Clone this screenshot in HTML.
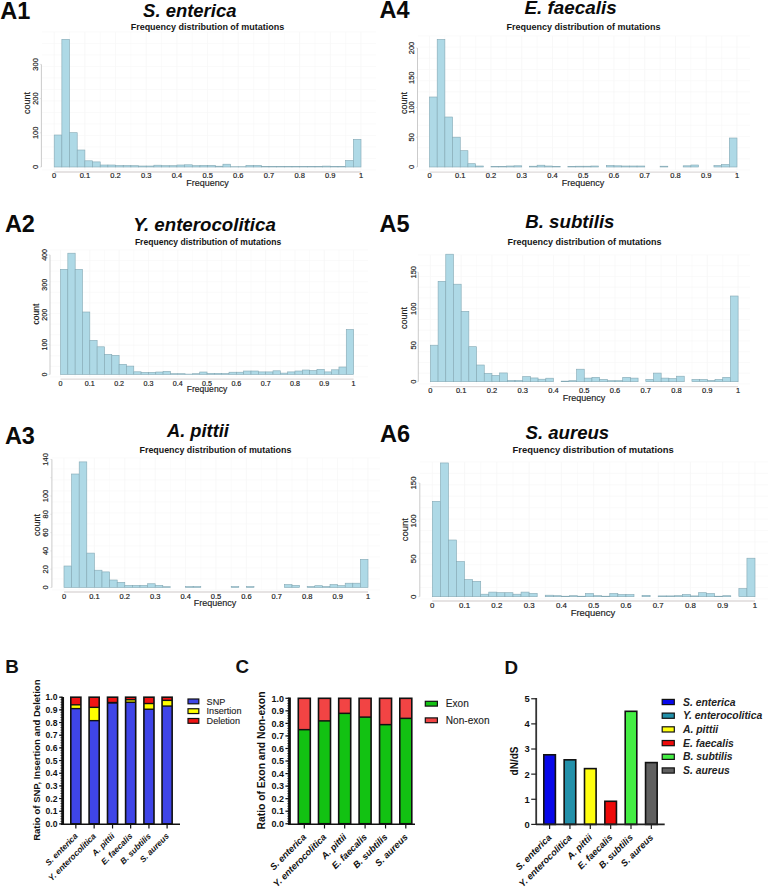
<!DOCTYPE html>
<html><head><meta charset="utf-8"><style>
html,body{margin:0;padding:0;background:#fff;}
svg{display:block;font-family:"Liberation Sans",sans-serif;}
</style></head><body>
<svg width="768" height="888" viewBox="0 0 768 888">
<rect x="0" y="0" width="768" height="888" fill="#fff"/>
<line x1="54.20" y1="32.00" x2="54.20" y2="170.00" stroke="#f4f4f4" stroke-width="0.6"/>
<line x1="69.54" y1="32.00" x2="69.54" y2="170.00" stroke="#f8f8f8" stroke-width="0.6"/>
<line x1="84.88" y1="32.00" x2="84.88" y2="170.00" stroke="#f4f4f4" stroke-width="0.6"/>
<line x1="100.22" y1="32.00" x2="100.22" y2="170.00" stroke="#f8f8f8" stroke-width="0.6"/>
<line x1="115.56" y1="32.00" x2="115.56" y2="170.00" stroke="#f4f4f4" stroke-width="0.6"/>
<line x1="130.90" y1="32.00" x2="130.90" y2="170.00" stroke="#f8f8f8" stroke-width="0.6"/>
<line x1="146.24" y1="32.00" x2="146.24" y2="170.00" stroke="#f4f4f4" stroke-width="0.6"/>
<line x1="161.58" y1="32.00" x2="161.58" y2="170.00" stroke="#f8f8f8" stroke-width="0.6"/>
<line x1="176.92" y1="32.00" x2="176.92" y2="170.00" stroke="#f4f4f4" stroke-width="0.6"/>
<line x1="192.26" y1="32.00" x2="192.26" y2="170.00" stroke="#f8f8f8" stroke-width="0.6"/>
<line x1="207.60" y1="32.00" x2="207.60" y2="170.00" stroke="#f4f4f4" stroke-width="0.6"/>
<line x1="222.94" y1="32.00" x2="222.94" y2="170.00" stroke="#f8f8f8" stroke-width="0.6"/>
<line x1="238.28" y1="32.00" x2="238.28" y2="170.00" stroke="#f4f4f4" stroke-width="0.6"/>
<line x1="253.62" y1="32.00" x2="253.62" y2="170.00" stroke="#f8f8f8" stroke-width="0.6"/>
<line x1="268.96" y1="32.00" x2="268.96" y2="170.00" stroke="#f4f4f4" stroke-width="0.6"/>
<line x1="284.30" y1="32.00" x2="284.30" y2="170.00" stroke="#f8f8f8" stroke-width="0.6"/>
<line x1="299.64" y1="32.00" x2="299.64" y2="170.00" stroke="#f4f4f4" stroke-width="0.6"/>
<line x1="314.98" y1="32.00" x2="314.98" y2="170.00" stroke="#f8f8f8" stroke-width="0.6"/>
<line x1="330.32" y1="32.00" x2="330.32" y2="170.00" stroke="#f4f4f4" stroke-width="0.6"/>
<line x1="345.66" y1="32.00" x2="345.66" y2="170.00" stroke="#f8f8f8" stroke-width="0.6"/>
<line x1="361.00" y1="32.00" x2="361.00" y2="170.00" stroke="#f4f4f4" stroke-width="0.6"/>
<line x1="42.00" y1="32.00" x2="376.00" y2="32.00" stroke="#f7f7f7" stroke-width="0.6"/>
<line x1="42.00" y1="43.50" x2="376.00" y2="43.50" stroke="#f7f7f7" stroke-width="0.6"/>
<line x1="42.00" y1="55.00" x2="376.00" y2="55.00" stroke="#f7f7f7" stroke-width="0.6"/>
<line x1="42.00" y1="66.50" x2="376.00" y2="66.50" stroke="#f7f7f7" stroke-width="0.6"/>
<line x1="42.00" y1="78.00" x2="376.00" y2="78.00" stroke="#f7f7f7" stroke-width="0.6"/>
<line x1="42.00" y1="89.50" x2="376.00" y2="89.50" stroke="#f7f7f7" stroke-width="0.6"/>
<line x1="42.00" y1="101.00" x2="376.00" y2="101.00" stroke="#f7f7f7" stroke-width="0.6"/>
<line x1="42.00" y1="112.50" x2="376.00" y2="112.50" stroke="#f7f7f7" stroke-width="0.6"/>
<line x1="42.00" y1="124.00" x2="376.00" y2="124.00" stroke="#f7f7f7" stroke-width="0.6"/>
<line x1="42.00" y1="135.50" x2="376.00" y2="135.50" stroke="#f7f7f7" stroke-width="0.6"/>
<line x1="42.00" y1="147.00" x2="376.00" y2="147.00" stroke="#f7f7f7" stroke-width="0.6"/>
<line x1="42.00" y1="158.50" x2="376.00" y2="158.50" stroke="#f7f7f7" stroke-width="0.6"/>
<line x1="42.00" y1="170.00" x2="376.00" y2="170.00" stroke="#f7f7f7" stroke-width="0.6"/>
<rect x="54.20" y="135.00" width="7.67" height="32.00" fill="#aed9e6" stroke="#84a8b4" stroke-width="0.6"/>
<rect x="61.87" y="39.30" width="7.67" height="127.70" fill="#aed9e6" stroke="#84a8b4" stroke-width="0.6"/>
<rect x="69.54" y="132.70" width="7.67" height="34.30" fill="#aed9e6" stroke="#84a8b4" stroke-width="0.6"/>
<rect x="77.21" y="150.00" width="7.67" height="17.00" fill="#aed9e6" stroke="#84a8b4" stroke-width="0.6"/>
<rect x="84.88" y="160.80" width="7.67" height="6.20" fill="#aed9e6" stroke="#84a8b4" stroke-width="0.6"/>
<rect x="92.55" y="161.90" width="7.67" height="5.10" fill="#aed9e6" stroke="#84a8b4" stroke-width="0.6"/>
<rect x="100.22" y="165.00" width="7.67" height="2.00" fill="#aed9e6" stroke="#84a8b4" stroke-width="0.6"/>
<rect x="107.89" y="165.00" width="7.67" height="2.00" fill="#aed9e6" stroke="#84a8b4" stroke-width="0.6"/>
<rect x="115.56" y="165.50" width="7.67" height="1.50" fill="#aed9e6" stroke="#84a8b4" stroke-width="0.6"/>
<rect x="123.23" y="165.50" width="7.67" height="1.50" fill="#aed9e6" stroke="#84a8b4" stroke-width="0.6"/>
<rect x="130.90" y="165.70" width="7.67" height="1.30" fill="#aed9e6" stroke="#84a8b4" stroke-width="0.6"/>
<rect x="138.57" y="166.00" width="7.67" height="1.00" fill="#aed9e6" stroke="#84a8b4" stroke-width="0.6"/>
<rect x="146.24" y="166.00" width="7.67" height="1.00" fill="#aed9e6" stroke="#84a8b4" stroke-width="0.6"/>
<rect x="153.91" y="165.20" width="7.67" height="1.80" fill="#aed9e6" stroke="#84a8b4" stroke-width="0.6"/>
<rect x="161.58" y="165.70" width="7.67" height="1.30" fill="#aed9e6" stroke="#84a8b4" stroke-width="0.6"/>
<rect x="169.25" y="165.70" width="7.67" height="1.30" fill="#aed9e6" stroke="#84a8b4" stroke-width="0.6"/>
<rect x="176.92" y="165.00" width="7.67" height="2.00" fill="#aed9e6" stroke="#84a8b4" stroke-width="0.6"/>
<rect x="184.59" y="164.80" width="7.67" height="2.20" fill="#aed9e6" stroke="#84a8b4" stroke-width="0.6"/>
<rect x="192.26" y="165.70" width="7.67" height="1.30" fill="#aed9e6" stroke="#84a8b4" stroke-width="0.6"/>
<rect x="199.93" y="165.40" width="7.67" height="1.60" fill="#aed9e6" stroke="#84a8b4" stroke-width="0.6"/>
<rect x="207.60" y="165.40" width="7.67" height="1.60" fill="#aed9e6" stroke="#84a8b4" stroke-width="0.6"/>
<rect x="215.27" y="166.20" width="7.67" height="0.80" fill="#aed9e6" stroke="#84a8b4" stroke-width="0.6"/>
<rect x="222.94" y="164.20" width="7.67" height="2.80" fill="#aed9e6" stroke="#84a8b4" stroke-width="0.6"/>
<rect x="230.61" y="166.70" width="7.67" height="0.30" fill="#aed9e6" stroke="#84a8b4" stroke-width="0.6"/>
<rect x="238.28" y="166.70" width="7.67" height="0.30" fill="#aed9e6" stroke="#84a8b4" stroke-width="0.6"/>
<rect x="245.95" y="165.40" width="7.67" height="1.60" fill="#aed9e6" stroke="#84a8b4" stroke-width="0.6"/>
<rect x="253.62" y="165.40" width="7.67" height="1.60" fill="#aed9e6" stroke="#84a8b4" stroke-width="0.6"/>
<rect x="261.29" y="166.60" width="7.67" height="0.40" fill="#aed9e6" stroke="#84a8b4" stroke-width="0.6"/>
<rect x="268.96" y="166.60" width="7.67" height="0.40" fill="#aed9e6" stroke="#84a8b4" stroke-width="0.6"/>
<rect x="276.63" y="166.60" width="7.67" height="0.40" fill="#aed9e6" stroke="#84a8b4" stroke-width="0.6"/>
<rect x="284.30" y="166.60" width="7.67" height="0.40" fill="#aed9e6" stroke="#84a8b4" stroke-width="0.6"/>
<rect x="291.97" y="166.60" width="7.67" height="0.40" fill="#aed9e6" stroke="#84a8b4" stroke-width="0.6"/>
<rect x="299.64" y="166.50" width="7.67" height="0.50" fill="#aed9e6" stroke="#84a8b4" stroke-width="0.6"/>
<rect x="307.31" y="166.30" width="7.67" height="0.70" fill="#aed9e6" stroke="#84a8b4" stroke-width="0.6"/>
<rect x="314.98" y="166.30" width="7.67" height="0.70" fill="#aed9e6" stroke="#84a8b4" stroke-width="0.6"/>
<rect x="322.65" y="166.10" width="7.67" height="0.90" fill="#aed9e6" stroke="#84a8b4" stroke-width="0.6"/>
<rect x="330.32" y="166.50" width="7.67" height="0.50" fill="#aed9e6" stroke="#84a8b4" stroke-width="0.6"/>
<rect x="337.99" y="166.50" width="7.67" height="0.50" fill="#aed9e6" stroke="#84a8b4" stroke-width="0.6"/>
<rect x="345.66" y="160.40" width="7.67" height="6.60" fill="#aed9e6" stroke="#84a8b4" stroke-width="0.6"/>
<rect x="353.33" y="139.30" width="7.67" height="27.70" fill="#aed9e6" stroke="#84a8b4" stroke-width="0.6"/>
<line x1="41.40" y1="167.00" x2="41.40" y2="64.40" stroke="#b5b5b5" stroke-width="0.7"/>
<line x1="39.90" y1="167.00" x2="41.40" y2="167.00" stroke="#d0d0d0" stroke-width="0.6"/>
<text x="37.6" y="167.0" font-size="7.5" text-anchor="middle" fill="#222" transform="rotate(-90 37.6 167.0)" stroke="#222" stroke-width="0.18">0</text>
<line x1="39.90" y1="132.80" x2="41.40" y2="132.80" stroke="#d0d0d0" stroke-width="0.6"/>
<text x="37.6" y="132.8" font-size="7.5" text-anchor="middle" fill="#222" transform="rotate(-90 37.6 132.8)" stroke="#222" stroke-width="0.18">100</text>
<line x1="39.90" y1="98.60" x2="41.40" y2="98.60" stroke="#d0d0d0" stroke-width="0.6"/>
<text x="37.6" y="98.6" font-size="7.5" text-anchor="middle" fill="#222" transform="rotate(-90 37.6 98.6)" stroke="#222" stroke-width="0.18">200</text>
<line x1="39.90" y1="64.40" x2="41.40" y2="64.40" stroke="#d0d0d0" stroke-width="0.6"/>
<text x="37.6" y="64.39999999999999" font-size="7.5" text-anchor="middle" fill="#222" transform="rotate(-90 37.6 64.39999999999999)" stroke="#222" stroke-width="0.18">300</text>
<line x1="54.20" y1="172.00" x2="361.00" y2="172.00" stroke="#dedada" stroke-width="1.3"/>
<text x="54.2" y="178.3" font-size="7.5" text-anchor="middle" fill="#222" stroke="#222" stroke-width="0.18">0</text>
<text x="84.88" y="178.3" font-size="7.5" text-anchor="middle" fill="#222" stroke="#222" stroke-width="0.18">0.1</text>
<text x="115.56" y="178.3" font-size="7.5" text-anchor="middle" fill="#222" stroke="#222" stroke-width="0.18">0.2</text>
<text x="146.24" y="178.3" font-size="7.5" text-anchor="middle" fill="#222" stroke="#222" stroke-width="0.18">0.3</text>
<text x="176.92000000000002" y="178.3" font-size="7.5" text-anchor="middle" fill="#222" stroke="#222" stroke-width="0.18">0.4</text>
<text x="207.60000000000002" y="178.3" font-size="7.5" text-anchor="middle" fill="#222" stroke="#222" stroke-width="0.18">0.5</text>
<text x="238.28000000000003" y="178.3" font-size="7.5" text-anchor="middle" fill="#222" stroke="#222" stroke-width="0.18">0.6</text>
<text x="268.96" y="178.3" font-size="7.5" text-anchor="middle" fill="#222" stroke="#222" stroke-width="0.18">0.7</text>
<text x="299.64" y="178.3" font-size="7.5" text-anchor="middle" fill="#222" stroke="#222" stroke-width="0.18">0.8</text>
<text x="330.32" y="178.3" font-size="7.5" text-anchor="middle" fill="#222" stroke="#222" stroke-width="0.18">0.9</text>
<text x="361.0" y="178.3" font-size="7.5" text-anchor="middle" fill="#222" stroke="#222" stroke-width="0.18">1</text>
<text x="29.9" y="103" font-size="9" text-anchor="middle" fill="#1a1a1a" transform="rotate(-90 29.9 103)" stroke="#1a1a1a" stroke-width="0.15">count</text>
<text x="207.5" y="186" font-size="9" text-anchor="middle" fill="#1a1a1a" stroke="#1a1a1a" stroke-width="0.15">Frequency</text>
<text x="0.2" y="18.5" font-size="23.5" font-weight="bold" text-anchor="start" fill="#0a0a0a">A1</text>
<text x="143.1" y="16.5" font-size="18.47" font-weight="bold" font-style="italic" text-anchor="start" fill="#0a0a0a">S. enterica</text>
<text x="130.7" y="30.0" font-size="8.98" font-weight="bold" text-anchor="start" fill="#151515">Frequency distribution of mutations</text>
<line x1="429.50" y1="36.00" x2="429.50" y2="170.00" stroke="#f4f4f4" stroke-width="0.6"/>
<line x1="444.88" y1="36.00" x2="444.88" y2="170.00" stroke="#f8f8f8" stroke-width="0.6"/>
<line x1="460.25" y1="36.00" x2="460.25" y2="170.00" stroke="#f4f4f4" stroke-width="0.6"/>
<line x1="475.62" y1="36.00" x2="475.62" y2="170.00" stroke="#f8f8f8" stroke-width="0.6"/>
<line x1="491.00" y1="36.00" x2="491.00" y2="170.00" stroke="#f4f4f4" stroke-width="0.6"/>
<line x1="506.38" y1="36.00" x2="506.38" y2="170.00" stroke="#f8f8f8" stroke-width="0.6"/>
<line x1="521.75" y1="36.00" x2="521.75" y2="170.00" stroke="#f4f4f4" stroke-width="0.6"/>
<line x1="537.12" y1="36.00" x2="537.12" y2="170.00" stroke="#f8f8f8" stroke-width="0.6"/>
<line x1="552.50" y1="36.00" x2="552.50" y2="170.00" stroke="#f4f4f4" stroke-width="0.6"/>
<line x1="567.88" y1="36.00" x2="567.88" y2="170.00" stroke="#f8f8f8" stroke-width="0.6"/>
<line x1="583.25" y1="36.00" x2="583.25" y2="170.00" stroke="#f4f4f4" stroke-width="0.6"/>
<line x1="598.62" y1="36.00" x2="598.62" y2="170.00" stroke="#f8f8f8" stroke-width="0.6"/>
<line x1="614.00" y1="36.00" x2="614.00" y2="170.00" stroke="#f4f4f4" stroke-width="0.6"/>
<line x1="629.38" y1="36.00" x2="629.38" y2="170.00" stroke="#f8f8f8" stroke-width="0.6"/>
<line x1="644.75" y1="36.00" x2="644.75" y2="170.00" stroke="#f4f4f4" stroke-width="0.6"/>
<line x1="660.12" y1="36.00" x2="660.12" y2="170.00" stroke="#f8f8f8" stroke-width="0.6"/>
<line x1="675.50" y1="36.00" x2="675.50" y2="170.00" stroke="#f4f4f4" stroke-width="0.6"/>
<line x1="690.88" y1="36.00" x2="690.88" y2="170.00" stroke="#f8f8f8" stroke-width="0.6"/>
<line x1="706.25" y1="36.00" x2="706.25" y2="170.00" stroke="#f4f4f4" stroke-width="0.6"/>
<line x1="721.62" y1="36.00" x2="721.62" y2="170.00" stroke="#f8f8f8" stroke-width="0.6"/>
<line x1="737.00" y1="36.00" x2="737.00" y2="170.00" stroke="#f4f4f4" stroke-width="0.6"/>
<line x1="418.00" y1="36.00" x2="750.00" y2="36.00" stroke="#f7f7f7" stroke-width="0.6"/>
<line x1="418.00" y1="47.17" x2="750.00" y2="47.17" stroke="#f7f7f7" stroke-width="0.6"/>
<line x1="418.00" y1="58.33" x2="750.00" y2="58.33" stroke="#f7f7f7" stroke-width="0.6"/>
<line x1="418.00" y1="69.50" x2="750.00" y2="69.50" stroke="#f7f7f7" stroke-width="0.6"/>
<line x1="418.00" y1="80.67" x2="750.00" y2="80.67" stroke="#f7f7f7" stroke-width="0.6"/>
<line x1="418.00" y1="91.83" x2="750.00" y2="91.83" stroke="#f7f7f7" stroke-width="0.6"/>
<line x1="418.00" y1="103.00" x2="750.00" y2="103.00" stroke="#f7f7f7" stroke-width="0.6"/>
<line x1="418.00" y1="114.17" x2="750.00" y2="114.17" stroke="#f7f7f7" stroke-width="0.6"/>
<line x1="418.00" y1="125.33" x2="750.00" y2="125.33" stroke="#f7f7f7" stroke-width="0.6"/>
<line x1="418.00" y1="136.50" x2="750.00" y2="136.50" stroke="#f7f7f7" stroke-width="0.6"/>
<line x1="418.00" y1="147.67" x2="750.00" y2="147.67" stroke="#f7f7f7" stroke-width="0.6"/>
<line x1="418.00" y1="158.83" x2="750.00" y2="158.83" stroke="#f7f7f7" stroke-width="0.6"/>
<line x1="418.00" y1="170.00" x2="750.00" y2="170.00" stroke="#f7f7f7" stroke-width="0.6"/>
<rect x="429.50" y="97.00" width="7.69" height="70.00" fill="#aed9e6" stroke="#84a8b4" stroke-width="0.6"/>
<rect x="437.19" y="39.40" width="7.69" height="127.60" fill="#aed9e6" stroke="#84a8b4" stroke-width="0.6"/>
<rect x="444.88" y="117.00" width="7.69" height="50.00" fill="#aed9e6" stroke="#84a8b4" stroke-width="0.6"/>
<rect x="452.56" y="137.20" width="7.69" height="29.80" fill="#aed9e6" stroke="#84a8b4" stroke-width="0.6"/>
<rect x="460.25" y="150.70" width="7.69" height="16.30" fill="#aed9e6" stroke="#84a8b4" stroke-width="0.6"/>
<rect x="467.94" y="163.70" width="7.69" height="3.30" fill="#aed9e6" stroke="#84a8b4" stroke-width="0.6"/>
<rect x="475.62" y="166.00" width="7.69" height="1.00" fill="#aed9e6" stroke="#84a8b4" stroke-width="0.6"/>
<rect x="491.00" y="166.40" width="7.69" height="0.60" fill="#aed9e6" stroke="#84a8b4" stroke-width="0.6"/>
<rect x="498.69" y="166.40" width="7.69" height="0.60" fill="#aed9e6" stroke="#84a8b4" stroke-width="0.6"/>
<rect x="506.38" y="166.00" width="7.69" height="1.00" fill="#aed9e6" stroke="#84a8b4" stroke-width="0.6"/>
<rect x="514.06" y="165.80" width="7.69" height="1.20" fill="#aed9e6" stroke="#84a8b4" stroke-width="0.6"/>
<rect x="529.44" y="166.20" width="7.69" height="0.80" fill="#aed9e6" stroke="#84a8b4" stroke-width="0.6"/>
<rect x="537.12" y="165.20" width="7.69" height="1.80" fill="#aed9e6" stroke="#84a8b4" stroke-width="0.6"/>
<rect x="544.81" y="166.00" width="7.69" height="1.00" fill="#aed9e6" stroke="#84a8b4" stroke-width="0.6"/>
<rect x="552.50" y="166.40" width="7.69" height="0.60" fill="#aed9e6" stroke="#84a8b4" stroke-width="0.6"/>
<rect x="567.88" y="166.40" width="7.69" height="0.60" fill="#aed9e6" stroke="#84a8b4" stroke-width="0.6"/>
<rect x="575.56" y="166.20" width="7.69" height="0.80" fill="#aed9e6" stroke="#84a8b4" stroke-width="0.6"/>
<rect x="583.25" y="166.20" width="7.69" height="0.80" fill="#aed9e6" stroke="#84a8b4" stroke-width="0.6"/>
<rect x="590.94" y="166.00" width="7.69" height="1.00" fill="#aed9e6" stroke="#84a8b4" stroke-width="0.6"/>
<rect x="606.31" y="165.50" width="7.69" height="1.50" fill="#aed9e6" stroke="#84a8b4" stroke-width="0.6"/>
<rect x="614.00" y="165.80" width="7.69" height="1.20" fill="#aed9e6" stroke="#84a8b4" stroke-width="0.6"/>
<rect x="621.69" y="166.00" width="7.69" height="1.00" fill="#aed9e6" stroke="#84a8b4" stroke-width="0.6"/>
<rect x="629.38" y="166.00" width="7.69" height="1.00" fill="#aed9e6" stroke="#84a8b4" stroke-width="0.6"/>
<rect x="637.06" y="166.00" width="7.69" height="1.00" fill="#aed9e6" stroke="#84a8b4" stroke-width="0.6"/>
<rect x="660.12" y="166.20" width="7.69" height="0.80" fill="#aed9e6" stroke="#84a8b4" stroke-width="0.6"/>
<rect x="683.19" y="165.80" width="7.69" height="1.20" fill="#aed9e6" stroke="#84a8b4" stroke-width="0.6"/>
<rect x="690.88" y="165.00" width="7.69" height="2.00" fill="#aed9e6" stroke="#84a8b4" stroke-width="0.6"/>
<rect x="713.94" y="165.50" width="7.69" height="1.50" fill="#aed9e6" stroke="#84a8b4" stroke-width="0.6"/>
<rect x="721.62" y="164.50" width="7.69" height="2.50" fill="#aed9e6" stroke="#84a8b4" stroke-width="0.6"/>
<rect x="729.31" y="138.00" width="7.69" height="29.00" fill="#aed9e6" stroke="#84a8b4" stroke-width="0.6"/>
<line x1="417.50" y1="167.00" x2="417.50" y2="48.00" stroke="#b5b5b5" stroke-width="0.7"/>
<line x1="416.00" y1="167.00" x2="417.50" y2="167.00" stroke="#d0d0d0" stroke-width="0.6"/>
<text x="413.6" y="167.0" font-size="7.5" text-anchor="middle" fill="#222" transform="rotate(-90 413.6 167.0)" stroke="#222" stroke-width="0.18">0</text>
<line x1="416.00" y1="137.25" x2="417.50" y2="137.25" stroke="#d0d0d0" stroke-width="0.6"/>
<text x="413.6" y="137.25" font-size="7.5" text-anchor="middle" fill="#222" transform="rotate(-90 413.6 137.25)" stroke="#222" stroke-width="0.18">50</text>
<line x1="416.00" y1="107.50" x2="417.50" y2="107.50" stroke="#d0d0d0" stroke-width="0.6"/>
<text x="413.6" y="107.5" font-size="7.5" text-anchor="middle" fill="#222" transform="rotate(-90 413.6 107.5)" stroke="#222" stroke-width="0.18">100</text>
<line x1="416.00" y1="77.75" x2="417.50" y2="77.75" stroke="#d0d0d0" stroke-width="0.6"/>
<text x="413.6" y="77.75" font-size="7.5" text-anchor="middle" fill="#222" transform="rotate(-90 413.6 77.75)" stroke="#222" stroke-width="0.18">150</text>
<line x1="416.00" y1="48.00" x2="417.50" y2="48.00" stroke="#d0d0d0" stroke-width="0.6"/>
<text x="413.6" y="48.0" font-size="7.5" text-anchor="middle" fill="#222" transform="rotate(-90 413.6 48.0)" stroke="#222" stroke-width="0.18">200</text>
<line x1="429.50" y1="172.20" x2="737.00" y2="172.20" stroke="#dedada" stroke-width="1.3"/>
<text x="429.5" y="178.3" font-size="7.5" text-anchor="middle" fill="#222" stroke="#222" stroke-width="0.18">0</text>
<text x="460.25" y="178.3" font-size="7.5" text-anchor="middle" fill="#222" stroke="#222" stroke-width="0.18">0.1</text>
<text x="491.0" y="178.3" font-size="7.5" text-anchor="middle" fill="#222" stroke="#222" stroke-width="0.18">0.2</text>
<text x="521.75" y="178.3" font-size="7.5" text-anchor="middle" fill="#222" stroke="#222" stroke-width="0.18">0.3</text>
<text x="552.5" y="178.3" font-size="7.5" text-anchor="middle" fill="#222" stroke="#222" stroke-width="0.18">0.4</text>
<text x="583.25" y="178.3" font-size="7.5" text-anchor="middle" fill="#222" stroke="#222" stroke-width="0.18">0.5</text>
<text x="614.0" y="178.3" font-size="7.5" text-anchor="middle" fill="#222" stroke="#222" stroke-width="0.18">0.6</text>
<text x="644.75" y="178.3" font-size="7.5" text-anchor="middle" fill="#222" stroke="#222" stroke-width="0.18">0.7</text>
<text x="675.5" y="178.3" font-size="7.5" text-anchor="middle" fill="#222" stroke="#222" stroke-width="0.18">0.8</text>
<text x="706.25" y="178.3" font-size="7.5" text-anchor="middle" fill="#222" stroke="#222" stroke-width="0.18">0.9</text>
<text x="737.0" y="178.3" font-size="7.5" text-anchor="middle" fill="#222" stroke="#222" stroke-width="0.18">1</text>
<text x="406.7" y="103" font-size="9" text-anchor="middle" fill="#1a1a1a" transform="rotate(-90 406.7 103)" stroke="#1a1a1a" stroke-width="0.15">count</text>
<text x="583" y="186" font-size="9" text-anchor="middle" fill="#1a1a1a" stroke="#1a1a1a" stroke-width="0.15">Frequency</text>
<text x="379.6" y="17.5" font-size="23.5" font-weight="bold" text-anchor="start" fill="#0a0a0a">A4</text>
<text x="524.5" y="13.8" font-size="18.86" font-weight="bold" font-style="italic" text-anchor="start" fill="#0a0a0a">E. faecalis</text>
<text x="506.4" y="30.2" font-size="9.0" font-weight="bold" text-anchor="start" fill="#151515">Frequency distribution of mutations</text>
<line x1="60.50" y1="250.00" x2="60.50" y2="377.00" stroke="#f4f4f4" stroke-width="0.6"/>
<line x1="75.16" y1="250.00" x2="75.16" y2="377.00" stroke="#f8f8f8" stroke-width="0.6"/>
<line x1="89.81" y1="250.00" x2="89.81" y2="377.00" stroke="#f4f4f4" stroke-width="0.6"/>
<line x1="104.47" y1="250.00" x2="104.47" y2="377.00" stroke="#f8f8f8" stroke-width="0.6"/>
<line x1="119.12" y1="250.00" x2="119.12" y2="377.00" stroke="#f4f4f4" stroke-width="0.6"/>
<line x1="133.78" y1="250.00" x2="133.78" y2="377.00" stroke="#f8f8f8" stroke-width="0.6"/>
<line x1="148.43" y1="250.00" x2="148.43" y2="377.00" stroke="#f4f4f4" stroke-width="0.6"/>
<line x1="163.09" y1="250.00" x2="163.09" y2="377.00" stroke="#f8f8f8" stroke-width="0.6"/>
<line x1="177.74" y1="250.00" x2="177.74" y2="377.00" stroke="#f4f4f4" stroke-width="0.6"/>
<line x1="192.40" y1="250.00" x2="192.40" y2="377.00" stroke="#f8f8f8" stroke-width="0.6"/>
<line x1="207.05" y1="250.00" x2="207.05" y2="377.00" stroke="#f4f4f4" stroke-width="0.6"/>
<line x1="221.71" y1="250.00" x2="221.71" y2="377.00" stroke="#f8f8f8" stroke-width="0.6"/>
<line x1="236.36" y1="250.00" x2="236.36" y2="377.00" stroke="#f4f4f4" stroke-width="0.6"/>
<line x1="251.02" y1="250.00" x2="251.02" y2="377.00" stroke="#f8f8f8" stroke-width="0.6"/>
<line x1="265.67" y1="250.00" x2="265.67" y2="377.00" stroke="#f4f4f4" stroke-width="0.6"/>
<line x1="280.33" y1="250.00" x2="280.33" y2="377.00" stroke="#f8f8f8" stroke-width="0.6"/>
<line x1="294.98" y1="250.00" x2="294.98" y2="377.00" stroke="#f4f4f4" stroke-width="0.6"/>
<line x1="309.63" y1="250.00" x2="309.63" y2="377.00" stroke="#f8f8f8" stroke-width="0.6"/>
<line x1="324.29" y1="250.00" x2="324.29" y2="377.00" stroke="#f4f4f4" stroke-width="0.6"/>
<line x1="338.94" y1="250.00" x2="338.94" y2="377.00" stroke="#f8f8f8" stroke-width="0.6"/>
<line x1="353.60" y1="250.00" x2="353.60" y2="377.00" stroke="#f4f4f4" stroke-width="0.6"/>
<line x1="50.00" y1="250.00" x2="368.00" y2="250.00" stroke="#f7f7f7" stroke-width="0.6"/>
<line x1="50.00" y1="260.58" x2="368.00" y2="260.58" stroke="#f7f7f7" stroke-width="0.6"/>
<line x1="50.00" y1="271.17" x2="368.00" y2="271.17" stroke="#f7f7f7" stroke-width="0.6"/>
<line x1="50.00" y1="281.75" x2="368.00" y2="281.75" stroke="#f7f7f7" stroke-width="0.6"/>
<line x1="50.00" y1="292.33" x2="368.00" y2="292.33" stroke="#f7f7f7" stroke-width="0.6"/>
<line x1="50.00" y1="302.92" x2="368.00" y2="302.92" stroke="#f7f7f7" stroke-width="0.6"/>
<line x1="50.00" y1="313.50" x2="368.00" y2="313.50" stroke="#f7f7f7" stroke-width="0.6"/>
<line x1="50.00" y1="324.08" x2="368.00" y2="324.08" stroke="#f7f7f7" stroke-width="0.6"/>
<line x1="50.00" y1="334.67" x2="368.00" y2="334.67" stroke="#f7f7f7" stroke-width="0.6"/>
<line x1="50.00" y1="345.25" x2="368.00" y2="345.25" stroke="#f7f7f7" stroke-width="0.6"/>
<line x1="50.00" y1="355.83" x2="368.00" y2="355.83" stroke="#f7f7f7" stroke-width="0.6"/>
<line x1="50.00" y1="366.42" x2="368.00" y2="366.42" stroke="#f7f7f7" stroke-width="0.6"/>
<line x1="50.00" y1="377.00" x2="368.00" y2="377.00" stroke="#f7f7f7" stroke-width="0.6"/>
<rect x="60.50" y="269.30" width="7.33" height="105.20" fill="#aed9e6" stroke="#84a8b4" stroke-width="0.6"/>
<rect x="67.83" y="253.20" width="7.33" height="121.30" fill="#aed9e6" stroke="#84a8b4" stroke-width="0.6"/>
<rect x="75.16" y="269.30" width="7.33" height="105.20" fill="#aed9e6" stroke="#84a8b4" stroke-width="0.6"/>
<rect x="82.48" y="312.00" width="7.33" height="62.50" fill="#aed9e6" stroke="#84a8b4" stroke-width="0.6"/>
<rect x="89.81" y="340.30" width="7.33" height="34.20" fill="#aed9e6" stroke="#84a8b4" stroke-width="0.6"/>
<rect x="97.14" y="346.80" width="7.33" height="27.70" fill="#aed9e6" stroke="#84a8b4" stroke-width="0.6"/>
<rect x="104.47" y="354.30" width="7.33" height="20.20" fill="#aed9e6" stroke="#84a8b4" stroke-width="0.6"/>
<rect x="111.79" y="355.30" width="7.33" height="19.20" fill="#aed9e6" stroke="#84a8b4" stroke-width="0.6"/>
<rect x="119.12" y="364.30" width="7.33" height="10.20" fill="#aed9e6" stroke="#84a8b4" stroke-width="0.6"/>
<rect x="126.45" y="366.10" width="7.33" height="8.40" fill="#aed9e6" stroke="#84a8b4" stroke-width="0.6"/>
<rect x="133.78" y="371.80" width="7.33" height="2.70" fill="#aed9e6" stroke="#84a8b4" stroke-width="0.6"/>
<rect x="141.10" y="372.40" width="7.33" height="2.10" fill="#aed9e6" stroke="#84a8b4" stroke-width="0.6"/>
<rect x="148.43" y="372.40" width="7.33" height="2.10" fill="#aed9e6" stroke="#84a8b4" stroke-width="0.6"/>
<rect x="155.76" y="372.00" width="7.33" height="2.50" fill="#aed9e6" stroke="#84a8b4" stroke-width="0.6"/>
<rect x="163.09" y="371.40" width="7.33" height="3.10" fill="#aed9e6" stroke="#84a8b4" stroke-width="0.6"/>
<rect x="170.41" y="373.70" width="7.33" height="0.80" fill="#aed9e6" stroke="#84a8b4" stroke-width="0.6"/>
<rect x="177.74" y="373.70" width="7.33" height="0.80" fill="#aed9e6" stroke="#84a8b4" stroke-width="0.6"/>
<rect x="185.07" y="374.10" width="7.33" height="0.40" fill="#aed9e6" stroke="#84a8b4" stroke-width="0.6"/>
<rect x="192.40" y="373.70" width="7.33" height="0.80" fill="#aed9e6" stroke="#84a8b4" stroke-width="0.6"/>
<rect x="199.72" y="372.00" width="7.33" height="2.50" fill="#aed9e6" stroke="#84a8b4" stroke-width="0.6"/>
<rect x="207.05" y="373.30" width="7.33" height="1.20" fill="#aed9e6" stroke="#84a8b4" stroke-width="0.6"/>
<rect x="214.38" y="373.30" width="7.33" height="1.20" fill="#aed9e6" stroke="#84a8b4" stroke-width="0.6"/>
<rect x="221.71" y="373.50" width="7.33" height="1.00" fill="#aed9e6" stroke="#84a8b4" stroke-width="0.6"/>
<rect x="229.03" y="372.20" width="7.33" height="2.30" fill="#aed9e6" stroke="#84a8b4" stroke-width="0.6"/>
<rect x="236.36" y="372.20" width="7.33" height="2.30" fill="#aed9e6" stroke="#84a8b4" stroke-width="0.6"/>
<rect x="243.69" y="371.00" width="7.33" height="3.50" fill="#aed9e6" stroke="#84a8b4" stroke-width="0.6"/>
<rect x="251.02" y="371.00" width="7.33" height="3.50" fill="#aed9e6" stroke="#84a8b4" stroke-width="0.6"/>
<rect x="258.34" y="371.90" width="7.33" height="2.60" fill="#aed9e6" stroke="#84a8b4" stroke-width="0.6"/>
<rect x="265.67" y="371.90" width="7.33" height="2.60" fill="#aed9e6" stroke="#84a8b4" stroke-width="0.6"/>
<rect x="273.00" y="370.80" width="7.33" height="3.70" fill="#aed9e6" stroke="#84a8b4" stroke-width="0.6"/>
<rect x="280.33" y="373.10" width="7.33" height="1.40" fill="#aed9e6" stroke="#84a8b4" stroke-width="0.6"/>
<rect x="287.65" y="371.90" width="7.33" height="2.60" fill="#aed9e6" stroke="#84a8b4" stroke-width="0.6"/>
<rect x="294.98" y="371.00" width="7.33" height="3.50" fill="#aed9e6" stroke="#84a8b4" stroke-width="0.6"/>
<rect x="302.31" y="370.00" width="7.33" height="4.50" fill="#aed9e6" stroke="#84a8b4" stroke-width="0.6"/>
<rect x="309.63" y="370.50" width="7.33" height="4.00" fill="#aed9e6" stroke="#84a8b4" stroke-width="0.6"/>
<rect x="316.96" y="369.30" width="7.33" height="5.20" fill="#aed9e6" stroke="#84a8b4" stroke-width="0.6"/>
<rect x="324.29" y="371.90" width="7.33" height="2.60" fill="#aed9e6" stroke="#84a8b4" stroke-width="0.6"/>
<rect x="331.62" y="369.80" width="7.33" height="4.70" fill="#aed9e6" stroke="#84a8b4" stroke-width="0.6"/>
<rect x="338.95" y="367.00" width="7.33" height="7.50" fill="#aed9e6" stroke="#84a8b4" stroke-width="0.6"/>
<rect x="346.27" y="329.50" width="7.33" height="45.00" fill="#aed9e6" stroke="#84a8b4" stroke-width="0.6"/>
<line x1="50.00" y1="374.50" x2="50.00" y2="254.90" stroke="#b5b5b5" stroke-width="0.7"/>
<line x1="48.50" y1="374.50" x2="50.00" y2="374.50" stroke="#d0d0d0" stroke-width="0.6"/>
<text x="47" y="374.5" font-size="7.125" text-anchor="middle" fill="#222" transform="rotate(-90 47 374.5)" stroke="#222" stroke-width="0.18">0</text>
<line x1="48.50" y1="344.60" x2="50.00" y2="344.60" stroke="#d0d0d0" stroke-width="0.6"/>
<text x="47" y="344.6" font-size="7.125" text-anchor="middle" fill="#222" transform="rotate(-90 47 344.6)" stroke="#222" stroke-width="0.18">100</text>
<line x1="48.50" y1="314.70" x2="50.00" y2="314.70" stroke="#d0d0d0" stroke-width="0.6"/>
<text x="47" y="314.7" font-size="7.125" text-anchor="middle" fill="#222" transform="rotate(-90 47 314.7)" stroke="#222" stroke-width="0.18">200</text>
<line x1="48.50" y1="284.80" x2="50.00" y2="284.80" stroke="#d0d0d0" stroke-width="0.6"/>
<text x="47" y="284.8" font-size="7.125" text-anchor="middle" fill="#222" transform="rotate(-90 47 284.8)" stroke="#222" stroke-width="0.18">300</text>
<line x1="48.50" y1="254.90" x2="50.00" y2="254.90" stroke="#d0d0d0" stroke-width="0.6"/>
<text x="47" y="254.9" font-size="7.125" text-anchor="middle" fill="#222" transform="rotate(-90 47 254.9)" stroke="#222" stroke-width="0.18">400</text>
<line x1="60.50" y1="379.20" x2="353.60" y2="379.20" stroke="#dedada" stroke-width="1.3"/>
<text x="60.5" y="385.5" font-size="7.125" text-anchor="middle" fill="#222" stroke="#222" stroke-width="0.18">0</text>
<text x="89.81" y="385.5" font-size="7.125" text-anchor="middle" fill="#222" stroke="#222" stroke-width="0.18">0.1</text>
<text x="119.12" y="385.5" font-size="7.125" text-anchor="middle" fill="#222" stroke="#222" stroke-width="0.18">0.2</text>
<text x="148.43" y="385.5" font-size="7.125" text-anchor="middle" fill="#222" stroke="#222" stroke-width="0.18">0.3</text>
<text x="177.74" y="385.5" font-size="7.125" text-anchor="middle" fill="#222" stroke="#222" stroke-width="0.18">0.4</text>
<text x="207.05" y="385.5" font-size="7.125" text-anchor="middle" fill="#222" stroke="#222" stroke-width="0.18">0.5</text>
<text x="236.36" y="385.5" font-size="7.125" text-anchor="middle" fill="#222" stroke="#222" stroke-width="0.18">0.6</text>
<text x="265.67" y="385.5" font-size="7.125" text-anchor="middle" fill="#222" stroke="#222" stroke-width="0.18">0.7</text>
<text x="294.98" y="385.5" font-size="7.125" text-anchor="middle" fill="#222" stroke="#222" stroke-width="0.18">0.8</text>
<text x="324.29" y="385.5" font-size="7.125" text-anchor="middle" fill="#222" stroke="#222" stroke-width="0.18">0.9</text>
<text x="353.6" y="385.5" font-size="7.125" text-anchor="middle" fill="#222" stroke="#222" stroke-width="0.18">1</text>
<text x="38.9" y="314" font-size="8.549999999999999" text-anchor="middle" fill="#1a1a1a" transform="rotate(-90 38.9 314)" stroke="#1a1a1a" stroke-width="0.15">count</text>
<text x="207" y="392" font-size="8.549999999999999" text-anchor="middle" fill="#1a1a1a" stroke="#1a1a1a" stroke-width="0.15">Frequency</text>
<text x="4.9" y="232.4" font-size="23.5" font-weight="bold" text-anchor="start" fill="#0a0a0a">A2</text>
<text x="133.2" y="231.0" font-size="18.71" font-weight="bold" font-style="italic" text-anchor="start" fill="#0a0a0a">Y. enterocolitica</text>
<text x="134.9" y="244.5" font-size="8.56" font-weight="bold" text-anchor="start" fill="#151515">Frequency distribution of mutations</text>
<line x1="430.40" y1="255.00" x2="430.40" y2="384.00" stroke="#f4f4f4" stroke-width="0.6"/>
<line x1="445.78" y1="255.00" x2="445.78" y2="384.00" stroke="#f8f8f8" stroke-width="0.6"/>
<line x1="461.17" y1="255.00" x2="461.17" y2="384.00" stroke="#f4f4f4" stroke-width="0.6"/>
<line x1="476.56" y1="255.00" x2="476.56" y2="384.00" stroke="#f8f8f8" stroke-width="0.6"/>
<line x1="491.94" y1="255.00" x2="491.94" y2="384.00" stroke="#f4f4f4" stroke-width="0.6"/>
<line x1="507.32" y1="255.00" x2="507.32" y2="384.00" stroke="#f8f8f8" stroke-width="0.6"/>
<line x1="522.71" y1="255.00" x2="522.71" y2="384.00" stroke="#f4f4f4" stroke-width="0.6"/>
<line x1="538.10" y1="255.00" x2="538.10" y2="384.00" stroke="#f8f8f8" stroke-width="0.6"/>
<line x1="553.48" y1="255.00" x2="553.48" y2="384.00" stroke="#f4f4f4" stroke-width="0.6"/>
<line x1="568.87" y1="255.00" x2="568.87" y2="384.00" stroke="#f8f8f8" stroke-width="0.6"/>
<line x1="584.25" y1="255.00" x2="584.25" y2="384.00" stroke="#f4f4f4" stroke-width="0.6"/>
<line x1="599.63" y1="255.00" x2="599.63" y2="384.00" stroke="#f8f8f8" stroke-width="0.6"/>
<line x1="615.02" y1="255.00" x2="615.02" y2="384.00" stroke="#f4f4f4" stroke-width="0.6"/>
<line x1="630.40" y1="255.00" x2="630.40" y2="384.00" stroke="#f8f8f8" stroke-width="0.6"/>
<line x1="645.79" y1="255.00" x2="645.79" y2="384.00" stroke="#f4f4f4" stroke-width="0.6"/>
<line x1="661.17" y1="255.00" x2="661.17" y2="384.00" stroke="#f8f8f8" stroke-width="0.6"/>
<line x1="676.56" y1="255.00" x2="676.56" y2="384.00" stroke="#f4f4f4" stroke-width="0.6"/>
<line x1="691.94" y1="255.00" x2="691.94" y2="384.00" stroke="#f8f8f8" stroke-width="0.6"/>
<line x1="707.33" y1="255.00" x2="707.33" y2="384.00" stroke="#f4f4f4" stroke-width="0.6"/>
<line x1="722.72" y1="255.00" x2="722.72" y2="384.00" stroke="#f8f8f8" stroke-width="0.6"/>
<line x1="738.10" y1="255.00" x2="738.10" y2="384.00" stroke="#f4f4f4" stroke-width="0.6"/>
<line x1="418.00" y1="255.00" x2="750.00" y2="255.00" stroke="#f7f7f7" stroke-width="0.6"/>
<line x1="418.00" y1="265.75" x2="750.00" y2="265.75" stroke="#f7f7f7" stroke-width="0.6"/>
<line x1="418.00" y1="276.50" x2="750.00" y2="276.50" stroke="#f7f7f7" stroke-width="0.6"/>
<line x1="418.00" y1="287.25" x2="750.00" y2="287.25" stroke="#f7f7f7" stroke-width="0.6"/>
<line x1="418.00" y1="298.00" x2="750.00" y2="298.00" stroke="#f7f7f7" stroke-width="0.6"/>
<line x1="418.00" y1="308.75" x2="750.00" y2="308.75" stroke="#f7f7f7" stroke-width="0.6"/>
<line x1="418.00" y1="319.50" x2="750.00" y2="319.50" stroke="#f7f7f7" stroke-width="0.6"/>
<line x1="418.00" y1="330.25" x2="750.00" y2="330.25" stroke="#f7f7f7" stroke-width="0.6"/>
<line x1="418.00" y1="341.00" x2="750.00" y2="341.00" stroke="#f7f7f7" stroke-width="0.6"/>
<line x1="418.00" y1="351.75" x2="750.00" y2="351.75" stroke="#f7f7f7" stroke-width="0.6"/>
<line x1="418.00" y1="362.50" x2="750.00" y2="362.50" stroke="#f7f7f7" stroke-width="0.6"/>
<line x1="418.00" y1="373.25" x2="750.00" y2="373.25" stroke="#f7f7f7" stroke-width="0.6"/>
<line x1="418.00" y1="384.00" x2="750.00" y2="384.00" stroke="#f7f7f7" stroke-width="0.6"/>
<rect x="430.40" y="345.20" width="7.69" height="36.50" fill="#aed9e6" stroke="#84a8b4" stroke-width="0.6"/>
<rect x="438.09" y="281.30" width="7.69" height="100.40" fill="#aed9e6" stroke="#84a8b4" stroke-width="0.6"/>
<rect x="445.78" y="254.20" width="7.69" height="127.50" fill="#aed9e6" stroke="#84a8b4" stroke-width="0.6"/>
<rect x="453.48" y="284.20" width="7.69" height="97.50" fill="#aed9e6" stroke="#84a8b4" stroke-width="0.6"/>
<rect x="461.17" y="311.30" width="7.69" height="70.40" fill="#aed9e6" stroke="#84a8b4" stroke-width="0.6"/>
<rect x="468.86" y="346.70" width="7.69" height="35.00" fill="#aed9e6" stroke="#84a8b4" stroke-width="0.6"/>
<rect x="476.55" y="365.00" width="7.69" height="16.70" fill="#aed9e6" stroke="#84a8b4" stroke-width="0.6"/>
<rect x="484.25" y="373.40" width="7.69" height="8.30" fill="#aed9e6" stroke="#84a8b4" stroke-width="0.6"/>
<rect x="491.94" y="375.45" width="7.69" height="6.25" fill="#aed9e6" stroke="#84a8b4" stroke-width="0.6"/>
<rect x="499.63" y="372.95" width="7.69" height="8.75" fill="#aed9e6" stroke="#84a8b4" stroke-width="0.6"/>
<rect x="507.32" y="380.45" width="7.69" height="1.25" fill="#aed9e6" stroke="#84a8b4" stroke-width="0.6"/>
<rect x="515.02" y="380.45" width="7.69" height="1.25" fill="#aed9e6" stroke="#84a8b4" stroke-width="0.6"/>
<rect x="522.71" y="376.50" width="7.69" height="5.20" fill="#aed9e6" stroke="#84a8b4" stroke-width="0.6"/>
<rect x="530.40" y="377.95" width="7.69" height="3.75" fill="#aed9e6" stroke="#84a8b4" stroke-width="0.6"/>
<rect x="538.10" y="379.20" width="7.69" height="2.50" fill="#aed9e6" stroke="#84a8b4" stroke-width="0.6"/>
<rect x="545.79" y="378.20" width="7.69" height="3.50" fill="#aed9e6" stroke="#84a8b4" stroke-width="0.6"/>
<rect x="561.17" y="381.10" width="7.69" height="0.60" fill="#aed9e6" stroke="#84a8b4" stroke-width="0.6"/>
<rect x="568.87" y="380.70" width="7.69" height="1.00" fill="#aed9e6" stroke="#84a8b4" stroke-width="0.6"/>
<rect x="576.56" y="369.20" width="7.69" height="12.50" fill="#aed9e6" stroke="#84a8b4" stroke-width="0.6"/>
<rect x="584.25" y="378.10" width="7.69" height="3.60" fill="#aed9e6" stroke="#84a8b4" stroke-width="0.6"/>
<rect x="591.94" y="377.30" width="7.69" height="4.40" fill="#aed9e6" stroke="#84a8b4" stroke-width="0.6"/>
<rect x="599.63" y="379.40" width="7.69" height="2.30" fill="#aed9e6" stroke="#84a8b4" stroke-width="0.6"/>
<rect x="607.33" y="380.70" width="7.69" height="1.00" fill="#aed9e6" stroke="#84a8b4" stroke-width="0.6"/>
<rect x="615.02" y="380.70" width="7.69" height="1.00" fill="#aed9e6" stroke="#84a8b4" stroke-width="0.6"/>
<rect x="622.71" y="377.30" width="7.69" height="4.40" fill="#aed9e6" stroke="#84a8b4" stroke-width="0.6"/>
<rect x="630.40" y="378.10" width="7.69" height="3.60" fill="#aed9e6" stroke="#84a8b4" stroke-width="0.6"/>
<rect x="645.79" y="379.40" width="7.69" height="2.30" fill="#aed9e6" stroke="#84a8b4" stroke-width="0.6"/>
<rect x="653.48" y="373.10" width="7.69" height="8.60" fill="#aed9e6" stroke="#84a8b4" stroke-width="0.6"/>
<rect x="661.17" y="378.10" width="7.69" height="3.60" fill="#aed9e6" stroke="#84a8b4" stroke-width="0.6"/>
<rect x="668.87" y="378.60" width="7.69" height="3.10" fill="#aed9e6" stroke="#84a8b4" stroke-width="0.6"/>
<rect x="676.56" y="376.20" width="7.69" height="5.50" fill="#aed9e6" stroke="#84a8b4" stroke-width="0.6"/>
<rect x="691.94" y="379.40" width="7.69" height="2.30" fill="#aed9e6" stroke="#84a8b4" stroke-width="0.6"/>
<rect x="699.64" y="379.40" width="7.69" height="2.30" fill="#aed9e6" stroke="#84a8b4" stroke-width="0.6"/>
<rect x="707.33" y="380.40" width="7.69" height="1.30" fill="#aed9e6" stroke="#84a8b4" stroke-width="0.6"/>
<rect x="715.02" y="379.40" width="7.69" height="2.30" fill="#aed9e6" stroke="#84a8b4" stroke-width="0.6"/>
<rect x="722.72" y="377.30" width="7.69" height="4.40" fill="#aed9e6" stroke="#84a8b4" stroke-width="0.6"/>
<rect x="730.41" y="296.00" width="7.69" height="85.70" fill="#aed9e6" stroke="#84a8b4" stroke-width="0.6"/>
<line x1="418.30" y1="381.70" x2="418.30" y2="272.20" stroke="#b5b5b5" stroke-width="0.7"/>
<line x1="416.80" y1="381.70" x2="418.30" y2="381.70" stroke="#d0d0d0" stroke-width="0.6"/>
<text x="415.6" y="381.7" font-size="7.5" text-anchor="middle" fill="#222" transform="rotate(-90 415.6 381.7)" stroke="#222" stroke-width="0.18">0</text>
<line x1="416.80" y1="345.20" x2="418.30" y2="345.20" stroke="#d0d0d0" stroke-width="0.6"/>
<text x="415.6" y="345.2" font-size="7.5" text-anchor="middle" fill="#222" transform="rotate(-90 415.6 345.2)" stroke="#222" stroke-width="0.18">50</text>
<line x1="416.80" y1="308.70" x2="418.30" y2="308.70" stroke="#d0d0d0" stroke-width="0.6"/>
<text x="415.6" y="308.7" font-size="7.5" text-anchor="middle" fill="#222" transform="rotate(-90 415.6 308.7)" stroke="#222" stroke-width="0.18">100</text>
<line x1="416.80" y1="272.20" x2="418.30" y2="272.20" stroke="#d0d0d0" stroke-width="0.6"/>
<text x="415.6" y="272.2" font-size="7.5" text-anchor="middle" fill="#222" transform="rotate(-90 415.6 272.2)" stroke="#222" stroke-width="0.18">150</text>
<line x1="430.40" y1="386.60" x2="738.10" y2="386.60" stroke="#dedada" stroke-width="1.3"/>
<text x="430.4" y="392.5" font-size="7.5" text-anchor="middle" fill="#222" stroke="#222" stroke-width="0.18">0</text>
<text x="461.16999999999996" y="392.5" font-size="7.5" text-anchor="middle" fill="#222" stroke="#222" stroke-width="0.18">0.1</text>
<text x="491.94" y="392.5" font-size="7.5" text-anchor="middle" fill="#222" stroke="#222" stroke-width="0.18">0.2</text>
<text x="522.71" y="392.5" font-size="7.5" text-anchor="middle" fill="#222" stroke="#222" stroke-width="0.18">0.3</text>
<text x="553.48" y="392.5" font-size="7.5" text-anchor="middle" fill="#222" stroke="#222" stroke-width="0.18">0.4</text>
<text x="584.25" y="392.5" font-size="7.5" text-anchor="middle" fill="#222" stroke="#222" stroke-width="0.18">0.5</text>
<text x="615.02" y="392.5" font-size="7.5" text-anchor="middle" fill="#222" stroke="#222" stroke-width="0.18">0.6</text>
<text x="645.79" y="392.5" font-size="7.5" text-anchor="middle" fill="#222" stroke="#222" stroke-width="0.18">0.7</text>
<text x="676.56" y="392.5" font-size="7.5" text-anchor="middle" fill="#222" stroke="#222" stroke-width="0.18">0.8</text>
<text x="707.3299999999999" y="392.5" font-size="7.5" text-anchor="middle" fill="#222" stroke="#222" stroke-width="0.18">0.9</text>
<text x="738.1" y="392.5" font-size="7.5" text-anchor="middle" fill="#222" stroke="#222" stroke-width="0.18">1</text>
<text x="407.3" y="318" font-size="9" text-anchor="middle" fill="#1a1a1a" transform="rotate(-90 407.3 318)" stroke="#1a1a1a" stroke-width="0.15">count</text>
<text x="584" y="400.5" font-size="9" text-anchor="middle" fill="#1a1a1a" stroke="#1a1a1a" stroke-width="0.15">Frequency</text>
<text x="379.6" y="231.6" font-size="23.5" font-weight="bold" text-anchor="start" fill="#0a0a0a">A5</text>
<text x="525.2" y="227.6" font-size="18.72" font-weight="bold" font-style="italic" text-anchor="start" fill="#0a0a0a">B. subtilis</text>
<text x="507.4" y="244.6" font-size="9.0" font-weight="bold" text-anchor="start" fill="#151515">Frequency distribution of mutations</text>
<line x1="64.00" y1="458.00" x2="64.00" y2="590.00" stroke="#f4f4f4" stroke-width="0.6"/>
<line x1="79.20" y1="458.00" x2="79.20" y2="590.00" stroke="#f8f8f8" stroke-width="0.6"/>
<line x1="94.40" y1="458.00" x2="94.40" y2="590.00" stroke="#f4f4f4" stroke-width="0.6"/>
<line x1="109.60" y1="458.00" x2="109.60" y2="590.00" stroke="#f8f8f8" stroke-width="0.6"/>
<line x1="124.80" y1="458.00" x2="124.80" y2="590.00" stroke="#f4f4f4" stroke-width="0.6"/>
<line x1="140.00" y1="458.00" x2="140.00" y2="590.00" stroke="#f8f8f8" stroke-width="0.6"/>
<line x1="155.20" y1="458.00" x2="155.20" y2="590.00" stroke="#f4f4f4" stroke-width="0.6"/>
<line x1="170.40" y1="458.00" x2="170.40" y2="590.00" stroke="#f8f8f8" stroke-width="0.6"/>
<line x1="185.60" y1="458.00" x2="185.60" y2="590.00" stroke="#f4f4f4" stroke-width="0.6"/>
<line x1="200.80" y1="458.00" x2="200.80" y2="590.00" stroke="#f8f8f8" stroke-width="0.6"/>
<line x1="216.00" y1="458.00" x2="216.00" y2="590.00" stroke="#f4f4f4" stroke-width="0.6"/>
<line x1="231.20" y1="458.00" x2="231.20" y2="590.00" stroke="#f8f8f8" stroke-width="0.6"/>
<line x1="246.40" y1="458.00" x2="246.40" y2="590.00" stroke="#f4f4f4" stroke-width="0.6"/>
<line x1="261.60" y1="458.00" x2="261.60" y2="590.00" stroke="#f8f8f8" stroke-width="0.6"/>
<line x1="276.80" y1="458.00" x2="276.80" y2="590.00" stroke="#f4f4f4" stroke-width="0.6"/>
<line x1="292.00" y1="458.00" x2="292.00" y2="590.00" stroke="#f8f8f8" stroke-width="0.6"/>
<line x1="307.20" y1="458.00" x2="307.20" y2="590.00" stroke="#f4f4f4" stroke-width="0.6"/>
<line x1="322.40" y1="458.00" x2="322.40" y2="590.00" stroke="#f8f8f8" stroke-width="0.6"/>
<line x1="337.60" y1="458.00" x2="337.60" y2="590.00" stroke="#f4f4f4" stroke-width="0.6"/>
<line x1="352.80" y1="458.00" x2="352.80" y2="590.00" stroke="#f8f8f8" stroke-width="0.6"/>
<line x1="368.00" y1="458.00" x2="368.00" y2="590.00" stroke="#f4f4f4" stroke-width="0.6"/>
<line x1="52.00" y1="458.00" x2="380.00" y2="458.00" stroke="#f7f7f7" stroke-width="0.6"/>
<line x1="52.00" y1="469.00" x2="380.00" y2="469.00" stroke="#f7f7f7" stroke-width="0.6"/>
<line x1="52.00" y1="480.00" x2="380.00" y2="480.00" stroke="#f7f7f7" stroke-width="0.6"/>
<line x1="52.00" y1="491.00" x2="380.00" y2="491.00" stroke="#f7f7f7" stroke-width="0.6"/>
<line x1="52.00" y1="502.00" x2="380.00" y2="502.00" stroke="#f7f7f7" stroke-width="0.6"/>
<line x1="52.00" y1="513.00" x2="380.00" y2="513.00" stroke="#f7f7f7" stroke-width="0.6"/>
<line x1="52.00" y1="524.00" x2="380.00" y2="524.00" stroke="#f7f7f7" stroke-width="0.6"/>
<line x1="52.00" y1="535.00" x2="380.00" y2="535.00" stroke="#f7f7f7" stroke-width="0.6"/>
<line x1="52.00" y1="546.00" x2="380.00" y2="546.00" stroke="#f7f7f7" stroke-width="0.6"/>
<line x1="52.00" y1="557.00" x2="380.00" y2="557.00" stroke="#f7f7f7" stroke-width="0.6"/>
<line x1="52.00" y1="568.00" x2="380.00" y2="568.00" stroke="#f7f7f7" stroke-width="0.6"/>
<line x1="52.00" y1="579.00" x2="380.00" y2="579.00" stroke="#f7f7f7" stroke-width="0.6"/>
<line x1="52.00" y1="590.00" x2="380.00" y2="590.00" stroke="#f7f7f7" stroke-width="0.6"/>
<rect x="64.00" y="566.00" width="7.60" height="21.50" fill="#aed9e6" stroke="#84a8b4" stroke-width="0.6"/>
<rect x="71.60" y="474.00" width="7.60" height="113.50" fill="#aed9e6" stroke="#84a8b4" stroke-width="0.6"/>
<rect x="79.20" y="461.90" width="7.60" height="125.60" fill="#aed9e6" stroke="#84a8b4" stroke-width="0.6"/>
<rect x="86.80" y="553.10" width="7.60" height="34.40" fill="#aed9e6" stroke="#84a8b4" stroke-width="0.6"/>
<rect x="94.40" y="570.20" width="7.60" height="17.30" fill="#aed9e6" stroke="#84a8b4" stroke-width="0.6"/>
<rect x="102.00" y="571.90" width="7.60" height="15.60" fill="#aed9e6" stroke="#84a8b4" stroke-width="0.6"/>
<rect x="109.60" y="580.00" width="7.60" height="7.50" fill="#aed9e6" stroke="#84a8b4" stroke-width="0.6"/>
<rect x="117.20" y="582.30" width="7.60" height="5.20" fill="#aed9e6" stroke="#84a8b4" stroke-width="0.6"/>
<rect x="124.80" y="585.40" width="7.60" height="2.10" fill="#aed9e6" stroke="#84a8b4" stroke-width="0.6"/>
<rect x="132.40" y="585.40" width="7.60" height="2.10" fill="#aed9e6" stroke="#84a8b4" stroke-width="0.6"/>
<rect x="140.00" y="585.40" width="7.60" height="2.10" fill="#aed9e6" stroke="#84a8b4" stroke-width="0.6"/>
<rect x="147.60" y="583.75" width="7.60" height="3.75" fill="#aed9e6" stroke="#84a8b4" stroke-width="0.6"/>
<rect x="155.20" y="585.40" width="7.60" height="2.10" fill="#aed9e6" stroke="#84a8b4" stroke-width="0.6"/>
<rect x="162.80" y="586.70" width="7.60" height="0.80" fill="#aed9e6" stroke="#84a8b4" stroke-width="0.6"/>
<rect x="185.60" y="586.50" width="7.60" height="1.00" fill="#aed9e6" stroke="#84a8b4" stroke-width="0.6"/>
<rect x="193.20" y="586.50" width="7.60" height="1.00" fill="#aed9e6" stroke="#84a8b4" stroke-width="0.6"/>
<rect x="231.20" y="586.50" width="7.60" height="1.00" fill="#aed9e6" stroke="#84a8b4" stroke-width="0.6"/>
<rect x="246.40" y="586.50" width="7.60" height="1.00" fill="#aed9e6" stroke="#84a8b4" stroke-width="0.6"/>
<rect x="284.40" y="584.60" width="7.60" height="2.90" fill="#aed9e6" stroke="#84a8b4" stroke-width="0.6"/>
<rect x="292.00" y="585.40" width="7.60" height="2.10" fill="#aed9e6" stroke="#84a8b4" stroke-width="0.6"/>
<rect x="307.20" y="586.50" width="7.60" height="1.00" fill="#aed9e6" stroke="#84a8b4" stroke-width="0.6"/>
<rect x="314.80" y="585.70" width="7.60" height="1.80" fill="#aed9e6" stroke="#84a8b4" stroke-width="0.6"/>
<rect x="322.40" y="586.50" width="7.60" height="1.00" fill="#aed9e6" stroke="#84a8b4" stroke-width="0.6"/>
<rect x="330.00" y="584.60" width="7.60" height="2.90" fill="#aed9e6" stroke="#84a8b4" stroke-width="0.6"/>
<rect x="337.60" y="585.70" width="7.60" height="1.80" fill="#aed9e6" stroke="#84a8b4" stroke-width="0.6"/>
<rect x="345.20" y="583.20" width="7.60" height="4.30" fill="#aed9e6" stroke="#84a8b4" stroke-width="0.6"/>
<rect x="352.80" y="583.20" width="7.60" height="4.30" fill="#aed9e6" stroke="#84a8b4" stroke-width="0.6"/>
<rect x="360.40" y="559.30" width="7.60" height="28.20" fill="#aed9e6" stroke="#84a8b4" stroke-width="0.6"/>
<line x1="51.90" y1="587.50" x2="51.90" y2="459.40" stroke="#b5b5b5" stroke-width="0.7"/>
<line x1="50.40" y1="587.50" x2="51.90" y2="587.50" stroke="#d0d0d0" stroke-width="0.6"/>
<text x="47.7" y="587.5" font-size="7.5" text-anchor="middle" fill="#222" transform="rotate(-90 47.7 587.5)" stroke="#222" stroke-width="0.18">0</text>
<line x1="50.40" y1="569.20" x2="51.90" y2="569.20" stroke="#d0d0d0" stroke-width="0.6"/>
<text x="47.7" y="569.2" font-size="7.5" text-anchor="middle" fill="#222" transform="rotate(-90 47.7 569.2)" stroke="#222" stroke-width="0.18">20</text>
<line x1="50.40" y1="550.90" x2="51.90" y2="550.90" stroke="#d0d0d0" stroke-width="0.6"/>
<text x="47.7" y="550.9" font-size="7.5" text-anchor="middle" fill="#222" transform="rotate(-90 47.7 550.9)" stroke="#222" stroke-width="0.18">40</text>
<line x1="50.40" y1="532.60" x2="51.90" y2="532.60" stroke="#d0d0d0" stroke-width="0.6"/>
<text x="47.7" y="532.6" font-size="7.5" text-anchor="middle" fill="#222" transform="rotate(-90 47.7 532.6)" stroke="#222" stroke-width="0.18">60</text>
<line x1="50.40" y1="514.30" x2="51.90" y2="514.30" stroke="#d0d0d0" stroke-width="0.6"/>
<text x="47.7" y="514.3" font-size="7.5" text-anchor="middle" fill="#222" transform="rotate(-90 47.7 514.3)" stroke="#222" stroke-width="0.18">80</text>
<line x1="50.40" y1="496.00" x2="51.90" y2="496.00" stroke="#d0d0d0" stroke-width="0.6"/>
<text x="47.7" y="496.0" font-size="7.5" text-anchor="middle" fill="#222" transform="rotate(-90 47.7 496.0)" stroke="#222" stroke-width="0.18">100</text>
<line x1="50.40" y1="477.70" x2="51.90" y2="477.70" stroke="#d0d0d0" stroke-width="0.6"/>
<line x1="50.40" y1="459.40" x2="51.90" y2="459.40" stroke="#d0d0d0" stroke-width="0.6"/>
<text x="47.7" y="459.4" font-size="7.5" text-anchor="middle" fill="#222" transform="rotate(-90 47.7 459.4)" stroke="#222" stroke-width="0.18">140</text>
<line x1="64.00" y1="592.00" x2="368.00" y2="592.00" stroke="#dedada" stroke-width="1.3"/>
<text x="64.0" y="598.8" font-size="7.5" text-anchor="middle" fill="#222" stroke="#222" stroke-width="0.18">0</text>
<text x="94.4" y="598.8" font-size="7.5" text-anchor="middle" fill="#222" stroke="#222" stroke-width="0.18">0.1</text>
<text x="124.8" y="598.8" font-size="7.5" text-anchor="middle" fill="#222" stroke="#222" stroke-width="0.18">0.2</text>
<text x="155.2" y="598.8" font-size="7.5" text-anchor="middle" fill="#222" stroke="#222" stroke-width="0.18">0.3</text>
<text x="185.6" y="598.8" font-size="7.5" text-anchor="middle" fill="#222" stroke="#222" stroke-width="0.18">0.4</text>
<text x="216.0" y="598.8" font-size="7.5" text-anchor="middle" fill="#222" stroke="#222" stroke-width="0.18">0.5</text>
<text x="246.4" y="598.8" font-size="7.5" text-anchor="middle" fill="#222" stroke="#222" stroke-width="0.18">0.6</text>
<text x="276.8" y="598.8" font-size="7.5" text-anchor="middle" fill="#222" stroke="#222" stroke-width="0.18">0.7</text>
<text x="307.2" y="598.8" font-size="7.5" text-anchor="middle" fill="#222" stroke="#222" stroke-width="0.18">0.8</text>
<text x="337.6" y="598.8" font-size="7.5" text-anchor="middle" fill="#222" stroke="#222" stroke-width="0.18">0.9</text>
<text x="368.0" y="598.8" font-size="7.5" text-anchor="middle" fill="#222" stroke="#222" stroke-width="0.18">1</text>
<text x="40.4" y="525" font-size="9" text-anchor="middle" fill="#1a1a1a" transform="rotate(-90 40.4 525)" stroke="#1a1a1a" stroke-width="0.15">count</text>
<text x="215" y="606" font-size="9" text-anchor="middle" fill="#1a1a1a" stroke="#1a1a1a" stroke-width="0.15">Frequency</text>
<text x="4.9" y="444.0" font-size="23.5" font-weight="bold" text-anchor="start" fill="#0a0a0a">A3</text>
<text x="167.0" y="437.1" font-size="18.3" font-weight="bold" font-style="italic" text-anchor="start" fill="#0a0a0a">A. pittii</text>
<text x="139.5" y="452.5" font-size="8.88" font-weight="bold" text-anchor="start" fill="#151515">Frequency distribution of mutations</text>
<line x1="432.30" y1="462.00" x2="432.30" y2="599.00" stroke="#f4f4f4" stroke-width="0.6"/>
<line x1="448.44" y1="462.00" x2="448.44" y2="599.00" stroke="#f8f8f8" stroke-width="0.6"/>
<line x1="464.57" y1="462.00" x2="464.57" y2="599.00" stroke="#f4f4f4" stroke-width="0.6"/>
<line x1="480.70" y1="462.00" x2="480.70" y2="599.00" stroke="#f8f8f8" stroke-width="0.6"/>
<line x1="496.84" y1="462.00" x2="496.84" y2="599.00" stroke="#f4f4f4" stroke-width="0.6"/>
<line x1="512.98" y1="462.00" x2="512.98" y2="599.00" stroke="#f8f8f8" stroke-width="0.6"/>
<line x1="529.11" y1="462.00" x2="529.11" y2="599.00" stroke="#f4f4f4" stroke-width="0.6"/>
<line x1="545.25" y1="462.00" x2="545.25" y2="599.00" stroke="#f8f8f8" stroke-width="0.6"/>
<line x1="561.38" y1="462.00" x2="561.38" y2="599.00" stroke="#f4f4f4" stroke-width="0.6"/>
<line x1="577.51" y1="462.00" x2="577.51" y2="599.00" stroke="#f8f8f8" stroke-width="0.6"/>
<line x1="593.65" y1="462.00" x2="593.65" y2="599.00" stroke="#f4f4f4" stroke-width="0.6"/>
<line x1="609.79" y1="462.00" x2="609.79" y2="599.00" stroke="#f8f8f8" stroke-width="0.6"/>
<line x1="625.92" y1="462.00" x2="625.92" y2="599.00" stroke="#f4f4f4" stroke-width="0.6"/>
<line x1="642.06" y1="462.00" x2="642.06" y2="599.00" stroke="#f8f8f8" stroke-width="0.6"/>
<line x1="658.19" y1="462.00" x2="658.19" y2="599.00" stroke="#f4f4f4" stroke-width="0.6"/>
<line x1="674.33" y1="462.00" x2="674.33" y2="599.00" stroke="#f8f8f8" stroke-width="0.6"/>
<line x1="690.46" y1="462.00" x2="690.46" y2="599.00" stroke="#f4f4f4" stroke-width="0.6"/>
<line x1="706.60" y1="462.00" x2="706.60" y2="599.00" stroke="#f8f8f8" stroke-width="0.6"/>
<line x1="722.73" y1="462.00" x2="722.73" y2="599.00" stroke="#f4f4f4" stroke-width="0.6"/>
<line x1="738.87" y1="462.00" x2="738.87" y2="599.00" stroke="#f8f8f8" stroke-width="0.6"/>
<line x1="755.00" y1="462.00" x2="755.00" y2="599.00" stroke="#f4f4f4" stroke-width="0.6"/>
<line x1="420.00" y1="462.00" x2="768.00" y2="462.00" stroke="#f7f7f7" stroke-width="0.6"/>
<line x1="420.00" y1="473.42" x2="768.00" y2="473.42" stroke="#f7f7f7" stroke-width="0.6"/>
<line x1="420.00" y1="484.83" x2="768.00" y2="484.83" stroke="#f7f7f7" stroke-width="0.6"/>
<line x1="420.00" y1="496.25" x2="768.00" y2="496.25" stroke="#f7f7f7" stroke-width="0.6"/>
<line x1="420.00" y1="507.67" x2="768.00" y2="507.67" stroke="#f7f7f7" stroke-width="0.6"/>
<line x1="420.00" y1="519.08" x2="768.00" y2="519.08" stroke="#f7f7f7" stroke-width="0.6"/>
<line x1="420.00" y1="530.50" x2="768.00" y2="530.50" stroke="#f7f7f7" stroke-width="0.6"/>
<line x1="420.00" y1="541.92" x2="768.00" y2="541.92" stroke="#f7f7f7" stroke-width="0.6"/>
<line x1="420.00" y1="553.33" x2="768.00" y2="553.33" stroke="#f7f7f7" stroke-width="0.6"/>
<line x1="420.00" y1="564.75" x2="768.00" y2="564.75" stroke="#f7f7f7" stroke-width="0.6"/>
<line x1="420.00" y1="576.17" x2="768.00" y2="576.17" stroke="#f7f7f7" stroke-width="0.6"/>
<line x1="420.00" y1="587.58" x2="768.00" y2="587.58" stroke="#f7f7f7" stroke-width="0.6"/>
<line x1="420.00" y1="599.00" x2="768.00" y2="599.00" stroke="#f7f7f7" stroke-width="0.6"/>
<rect x="432.30" y="501.30" width="8.07" height="95.40" fill="#aed9e6" stroke="#84a8b4" stroke-width="0.6"/>
<rect x="440.37" y="462.95" width="8.07" height="133.75" fill="#aed9e6" stroke="#84a8b4" stroke-width="0.6"/>
<rect x="448.44" y="540.00" width="8.07" height="56.70" fill="#aed9e6" stroke="#84a8b4" stroke-width="0.6"/>
<rect x="456.50" y="561.50" width="8.07" height="35.20" fill="#aed9e6" stroke="#84a8b4" stroke-width="0.6"/>
<rect x="464.57" y="579.60" width="8.07" height="17.10" fill="#aed9e6" stroke="#84a8b4" stroke-width="0.6"/>
<rect x="472.64" y="581.30" width="8.07" height="15.40" fill="#aed9e6" stroke="#84a8b4" stroke-width="0.6"/>
<rect x="480.70" y="594.20" width="8.07" height="2.50" fill="#aed9e6" stroke="#84a8b4" stroke-width="0.6"/>
<rect x="488.77" y="592.10" width="8.07" height="4.60" fill="#aed9e6" stroke="#84a8b4" stroke-width="0.6"/>
<rect x="496.84" y="592.70" width="8.07" height="4.00" fill="#aed9e6" stroke="#84a8b4" stroke-width="0.6"/>
<rect x="504.91" y="592.70" width="8.07" height="4.00" fill="#aed9e6" stroke="#84a8b4" stroke-width="0.6"/>
<rect x="512.98" y="594.20" width="8.07" height="2.50" fill="#aed9e6" stroke="#84a8b4" stroke-width="0.6"/>
<rect x="521.04" y="592.10" width="8.07" height="4.60" fill="#aed9e6" stroke="#84a8b4" stroke-width="0.6"/>
<rect x="529.11" y="593.40" width="8.07" height="3.30" fill="#aed9e6" stroke="#84a8b4" stroke-width="0.6"/>
<rect x="545.25" y="595.20" width="8.07" height="1.50" fill="#aed9e6" stroke="#84a8b4" stroke-width="0.6"/>
<rect x="553.31" y="595.70" width="8.07" height="1.00" fill="#aed9e6" stroke="#84a8b4" stroke-width="0.6"/>
<rect x="561.38" y="596.20" width="8.07" height="0.50" fill="#aed9e6" stroke="#84a8b4" stroke-width="0.6"/>
<rect x="569.45" y="595.70" width="8.07" height="1.00" fill="#aed9e6" stroke="#84a8b4" stroke-width="0.6"/>
<rect x="577.51" y="596.20" width="8.07" height="0.50" fill="#aed9e6" stroke="#84a8b4" stroke-width="0.6"/>
<rect x="585.58" y="593.50" width="8.07" height="3.20" fill="#aed9e6" stroke="#84a8b4" stroke-width="0.6"/>
<rect x="593.65" y="595.70" width="8.07" height="1.00" fill="#aed9e6" stroke="#84a8b4" stroke-width="0.6"/>
<rect x="601.72" y="596.20" width="8.07" height="0.50" fill="#aed9e6" stroke="#84a8b4" stroke-width="0.6"/>
<rect x="609.78" y="593.50" width="8.07" height="3.20" fill="#aed9e6" stroke="#84a8b4" stroke-width="0.6"/>
<rect x="617.85" y="594.50" width="8.07" height="2.20" fill="#aed9e6" stroke="#84a8b4" stroke-width="0.6"/>
<rect x="625.92" y="594.50" width="8.07" height="2.20" fill="#aed9e6" stroke="#84a8b4" stroke-width="0.6"/>
<rect x="642.05" y="595.30" width="8.07" height="1.40" fill="#aed9e6" stroke="#84a8b4" stroke-width="0.6"/>
<rect x="658.19" y="595.90" width="8.07" height="0.80" fill="#aed9e6" stroke="#84a8b4" stroke-width="0.6"/>
<rect x="666.26" y="595.90" width="8.07" height="0.80" fill="#aed9e6" stroke="#84a8b4" stroke-width="0.6"/>
<rect x="674.33" y="595.70" width="8.07" height="1.00" fill="#aed9e6" stroke="#84a8b4" stroke-width="0.6"/>
<rect x="682.39" y="594.50" width="8.07" height="2.20" fill="#aed9e6" stroke="#84a8b4" stroke-width="0.6"/>
<rect x="690.46" y="595.90" width="8.07" height="0.80" fill="#aed9e6" stroke="#84a8b4" stroke-width="0.6"/>
<rect x="698.53" y="592.70" width="8.07" height="4.00" fill="#aed9e6" stroke="#84a8b4" stroke-width="0.6"/>
<rect x="706.60" y="593.50" width="8.07" height="3.20" fill="#aed9e6" stroke="#84a8b4" stroke-width="0.6"/>
<rect x="714.66" y="596.20" width="8.07" height="0.50" fill="#aed9e6" stroke="#84a8b4" stroke-width="0.6"/>
<rect x="722.73" y="595.70" width="8.07" height="1.00" fill="#aed9e6" stroke="#84a8b4" stroke-width="0.6"/>
<rect x="738.87" y="588.60" width="8.07" height="8.10" fill="#aed9e6" stroke="#84a8b4" stroke-width="0.6"/>
<rect x="746.93" y="558.20" width="8.07" height="38.50" fill="#aed9e6" stroke="#84a8b4" stroke-width="0.6"/>
<line x1="419.80" y1="596.70" x2="419.80" y2="483.00" stroke="#b5b5b5" stroke-width="0.7"/>
<line x1="418.30" y1="596.70" x2="419.80" y2="596.70" stroke="#d0d0d0" stroke-width="0.6"/>
<text x="415.6" y="596.7" font-size="7.875" text-anchor="middle" fill="#222" transform="rotate(-90 415.6 596.7)" stroke="#222" stroke-width="0.18">0</text>
<line x1="418.30" y1="558.80" x2="419.80" y2="558.80" stroke="#d0d0d0" stroke-width="0.6"/>
<text x="415.6" y="558.8000000000001" font-size="7.875" text-anchor="middle" fill="#222" transform="rotate(-90 415.6 558.8000000000001)" stroke="#222" stroke-width="0.18">50</text>
<line x1="418.30" y1="520.90" x2="419.80" y2="520.90" stroke="#d0d0d0" stroke-width="0.6"/>
<text x="415.6" y="520.9000000000001" font-size="7.875" text-anchor="middle" fill="#222" transform="rotate(-90 415.6 520.9000000000001)" stroke="#222" stroke-width="0.18">100</text>
<line x1="418.30" y1="483.00" x2="419.80" y2="483.00" stroke="#d0d0d0" stroke-width="0.6"/>
<text x="415.6" y="483.00000000000006" font-size="7.875" text-anchor="middle" fill="#222" transform="rotate(-90 415.6 483.00000000000006)" stroke="#222" stroke-width="0.18">150</text>
<line x1="432.30" y1="601.00" x2="755.00" y2="601.00" stroke="#dedada" stroke-width="1.3"/>
<text x="432.3" y="607.5" font-size="7.875" text-anchor="middle" fill="#222" stroke="#222" stroke-width="0.18">0</text>
<text x="464.57" y="607.5" font-size="7.875" text-anchor="middle" fill="#222" stroke="#222" stroke-width="0.18">0.1</text>
<text x="496.84000000000003" y="607.5" font-size="7.875" text-anchor="middle" fill="#222" stroke="#222" stroke-width="0.18">0.2</text>
<text x="529.11" y="607.5" font-size="7.875" text-anchor="middle" fill="#222" stroke="#222" stroke-width="0.18">0.3</text>
<text x="561.38" y="607.5" font-size="7.875" text-anchor="middle" fill="#222" stroke="#222" stroke-width="0.18">0.4</text>
<text x="593.65" y="607.5" font-size="7.875" text-anchor="middle" fill="#222" stroke="#222" stroke-width="0.18">0.5</text>
<text x="625.92" y="607.5" font-size="7.875" text-anchor="middle" fill="#222" stroke="#222" stroke-width="0.18">0.6</text>
<text x="658.19" y="607.5" font-size="7.875" text-anchor="middle" fill="#222" stroke="#222" stroke-width="0.18">0.7</text>
<text x="690.46" y="607.5" font-size="7.875" text-anchor="middle" fill="#222" stroke="#222" stroke-width="0.18">0.8</text>
<text x="722.73" y="607.5" font-size="7.875" text-anchor="middle" fill="#222" stroke="#222" stroke-width="0.18">0.9</text>
<text x="755.0" y="607.5" font-size="7.875" text-anchor="middle" fill="#222" stroke="#222" stroke-width="0.18">1</text>
<text x="408" y="529.7" font-size="9.450000000000001" text-anchor="middle" fill="#1a1a1a" transform="rotate(-90 408 529.7)" stroke="#1a1a1a" stroke-width="0.15">count</text>
<text x="593" y="616" font-size="9.450000000000001" text-anchor="middle" fill="#1a1a1a" stroke="#1a1a1a" stroke-width="0.15">Frequency</text>
<text x="380.0" y="442.0" font-size="23.5" font-weight="bold" text-anchor="start" fill="#0a0a0a">A6</text>
<text x="525.5" y="439.2" font-size="18.6" font-weight="bold" font-style="italic" text-anchor="start" fill="#0a0a0a">S. aureus</text>
<text x="512.6" y="452.6" font-size="9.44" font-weight="bold" text-anchor="start" fill="#151515">Frequency distribution of mutations</text>
<text x="5.2" y="672.9" font-size="18.8" font-weight="bold" text-anchor="start" fill="#111">B</text>
<rect x="70.80" y="697.20" width="10.10" height="7.60" fill="#f01414"/>
<rect x="70.80" y="704.80" width="10.10" height="3.80" fill="#ffff00"/>
<rect x="70.80" y="708.60" width="10.10" height="115.30" fill="#3f45e8"/>
<line x1="70.80" y1="708.60" x2="80.90" y2="708.60" stroke="#111" stroke-width="1.4"/>
<line x1="70.80" y1="704.80" x2="80.90" y2="704.80" stroke="#111" stroke-width="1.4"/>
<rect x="70.80" y="697.20" width="10.10" height="126.70" fill="none" stroke="#111" stroke-width="1.6"/>
<rect x="89.10" y="697.20" width="10.10" height="10.14" fill="#f01414"/>
<rect x="89.10" y="707.34" width="10.10" height="13.30" fill="#ffff00"/>
<rect x="89.10" y="720.64" width="10.10" height="103.26" fill="#3f45e8"/>
<line x1="89.10" y1="720.64" x2="99.20" y2="720.64" stroke="#111" stroke-width="1.4"/>
<line x1="89.10" y1="707.34" x2="99.20" y2="707.34" stroke="#111" stroke-width="1.4"/>
<rect x="89.10" y="697.20" width="10.10" height="126.70" fill="none" stroke="#111" stroke-width="1.6"/>
<rect x="107.50" y="697.20" width="10.10" height="5.32" fill="#f01414"/>
<rect x="107.50" y="702.52" width="10.10" height="0.38" fill="#ffff00"/>
<rect x="107.50" y="702.90" width="10.10" height="121.00" fill="#3f45e8"/>
<line x1="107.50" y1="702.90" x2="117.60" y2="702.90" stroke="#111" stroke-width="1.4"/>
<line x1="107.50" y1="702.52" x2="117.60" y2="702.52" stroke="#111" stroke-width="1.4"/>
<rect x="107.50" y="697.20" width="10.10" height="126.70" fill="none" stroke="#111" stroke-width="1.6"/>
<rect x="125.60" y="697.20" width="10.10" height="2.53" fill="#f01414"/>
<rect x="125.60" y="699.73" width="10.10" height="2.53" fill="#ffff00"/>
<rect x="125.60" y="702.27" width="10.10" height="121.63" fill="#3f45e8"/>
<line x1="125.60" y1="702.27" x2="135.70" y2="702.27" stroke="#111" stroke-width="1.4"/>
<line x1="125.60" y1="699.73" x2="135.70" y2="699.73" stroke="#111" stroke-width="1.4"/>
<rect x="125.60" y="697.20" width="10.10" height="126.70" fill="none" stroke="#111" stroke-width="1.6"/>
<rect x="143.90" y="697.20" width="10.10" height="6.34" fill="#f01414"/>
<rect x="143.90" y="703.54" width="10.10" height="5.70" fill="#ffff00"/>
<rect x="143.90" y="709.24" width="10.10" height="114.66" fill="#3f45e8"/>
<line x1="143.90" y1="709.24" x2="154.00" y2="709.24" stroke="#111" stroke-width="1.4"/>
<line x1="143.90" y1="703.54" x2="154.00" y2="703.54" stroke="#111" stroke-width="1.4"/>
<rect x="143.90" y="697.20" width="10.10" height="126.70" fill="none" stroke="#111" stroke-width="1.6"/>
<rect x="162.05" y="697.20" width="10.10" height="3.17" fill="#f01414"/>
<rect x="162.05" y="700.37" width="10.10" height="5.70" fill="#ffff00"/>
<rect x="162.05" y="706.07" width="10.10" height="117.83" fill="#3f45e8"/>
<line x1="162.05" y1="706.07" x2="172.15" y2="706.07" stroke="#111" stroke-width="1.4"/>
<line x1="162.05" y1="700.37" x2="172.15" y2="700.37" stroke="#111" stroke-width="1.4"/>
<rect x="162.05" y="697.20" width="10.10" height="126.70" fill="none" stroke="#111" stroke-width="1.6"/>
<line x1="62.65" y1="697.00" x2="62.65" y2="825.00" stroke="#111" stroke-width="2.8"/>
<line x1="61.00" y1="824.20" x2="180.00" y2="824.20" stroke="#111" stroke-width="1.6"/>
<line x1="60.40" y1="823.90" x2="62.65" y2="823.90" stroke="#111" stroke-width="0.7"/>
<line x1="60.40" y1="821.37" x2="62.65" y2="821.37" stroke="#111" stroke-width="0.7"/>
<line x1="60.40" y1="818.83" x2="62.65" y2="818.83" stroke="#111" stroke-width="0.7"/>
<line x1="60.40" y1="816.30" x2="62.65" y2="816.30" stroke="#111" stroke-width="0.7"/>
<line x1="60.40" y1="813.76" x2="62.65" y2="813.76" stroke="#111" stroke-width="0.7"/>
<line x1="60.40" y1="811.23" x2="62.65" y2="811.23" stroke="#111" stroke-width="0.7"/>
<line x1="60.40" y1="808.70" x2="62.65" y2="808.70" stroke="#111" stroke-width="0.7"/>
<line x1="60.40" y1="806.16" x2="62.65" y2="806.16" stroke="#111" stroke-width="0.7"/>
<line x1="60.40" y1="803.63" x2="62.65" y2="803.63" stroke="#111" stroke-width="0.7"/>
<line x1="60.40" y1="801.09" x2="62.65" y2="801.09" stroke="#111" stroke-width="0.7"/>
<line x1="60.40" y1="798.56" x2="62.65" y2="798.56" stroke="#111" stroke-width="0.7"/>
<line x1="60.40" y1="796.03" x2="62.65" y2="796.03" stroke="#111" stroke-width="0.7"/>
<line x1="60.40" y1="793.49" x2="62.65" y2="793.49" stroke="#111" stroke-width="0.7"/>
<line x1="60.40" y1="790.96" x2="62.65" y2="790.96" stroke="#111" stroke-width="0.7"/>
<line x1="60.40" y1="788.42" x2="62.65" y2="788.42" stroke="#111" stroke-width="0.7"/>
<line x1="60.40" y1="785.89" x2="62.65" y2="785.89" stroke="#111" stroke-width="0.7"/>
<line x1="60.40" y1="783.36" x2="62.65" y2="783.36" stroke="#111" stroke-width="0.7"/>
<line x1="60.40" y1="780.82" x2="62.65" y2="780.82" stroke="#111" stroke-width="0.7"/>
<line x1="60.40" y1="778.29" x2="62.65" y2="778.29" stroke="#111" stroke-width="0.7"/>
<line x1="60.40" y1="775.75" x2="62.65" y2="775.75" stroke="#111" stroke-width="0.7"/>
<line x1="60.40" y1="773.22" x2="62.65" y2="773.22" stroke="#111" stroke-width="0.7"/>
<line x1="60.40" y1="770.69" x2="62.65" y2="770.69" stroke="#111" stroke-width="0.7"/>
<line x1="60.40" y1="768.15" x2="62.65" y2="768.15" stroke="#111" stroke-width="0.7"/>
<line x1="60.40" y1="765.62" x2="62.65" y2="765.62" stroke="#111" stroke-width="0.7"/>
<line x1="60.40" y1="763.08" x2="62.65" y2="763.08" stroke="#111" stroke-width="0.7"/>
<line x1="60.40" y1="760.55" x2="62.65" y2="760.55" stroke="#111" stroke-width="0.7"/>
<line x1="60.40" y1="758.02" x2="62.65" y2="758.02" stroke="#111" stroke-width="0.7"/>
<line x1="60.40" y1="755.48" x2="62.65" y2="755.48" stroke="#111" stroke-width="0.7"/>
<line x1="60.40" y1="752.95" x2="62.65" y2="752.95" stroke="#111" stroke-width="0.7"/>
<line x1="60.40" y1="750.41" x2="62.65" y2="750.41" stroke="#111" stroke-width="0.7"/>
<line x1="60.40" y1="747.88" x2="62.65" y2="747.88" stroke="#111" stroke-width="0.7"/>
<line x1="60.40" y1="745.35" x2="62.65" y2="745.35" stroke="#111" stroke-width="0.7"/>
<line x1="60.40" y1="742.81" x2="62.65" y2="742.81" stroke="#111" stroke-width="0.7"/>
<line x1="60.40" y1="740.28" x2="62.65" y2="740.28" stroke="#111" stroke-width="0.7"/>
<line x1="60.40" y1="737.74" x2="62.65" y2="737.74" stroke="#111" stroke-width="0.7"/>
<line x1="60.40" y1="735.21" x2="62.65" y2="735.21" stroke="#111" stroke-width="0.7"/>
<line x1="60.40" y1="732.68" x2="62.65" y2="732.68" stroke="#111" stroke-width="0.7"/>
<line x1="60.40" y1="730.14" x2="62.65" y2="730.14" stroke="#111" stroke-width="0.7"/>
<line x1="60.40" y1="727.61" x2="62.65" y2="727.61" stroke="#111" stroke-width="0.7"/>
<line x1="60.40" y1="725.07" x2="62.65" y2="725.07" stroke="#111" stroke-width="0.7"/>
<line x1="60.40" y1="722.54" x2="62.65" y2="722.54" stroke="#111" stroke-width="0.7"/>
<line x1="60.40" y1="720.01" x2="62.65" y2="720.01" stroke="#111" stroke-width="0.7"/>
<line x1="60.40" y1="717.47" x2="62.65" y2="717.47" stroke="#111" stroke-width="0.7"/>
<line x1="60.40" y1="714.94" x2="62.65" y2="714.94" stroke="#111" stroke-width="0.7"/>
<line x1="60.40" y1="712.40" x2="62.65" y2="712.40" stroke="#111" stroke-width="0.7"/>
<line x1="60.40" y1="709.87" x2="62.65" y2="709.87" stroke="#111" stroke-width="0.7"/>
<line x1="60.40" y1="707.34" x2="62.65" y2="707.34" stroke="#111" stroke-width="0.7"/>
<line x1="60.40" y1="704.80" x2="62.65" y2="704.80" stroke="#111" stroke-width="0.7"/>
<line x1="60.40" y1="702.27" x2="62.65" y2="702.27" stroke="#111" stroke-width="0.7"/>
<line x1="60.40" y1="699.73" x2="62.65" y2="699.73" stroke="#111" stroke-width="0.7"/>
<line x1="60.40" y1="697.20" x2="62.65" y2="697.20" stroke="#111" stroke-width="0.7"/>
<line x1="59.10" y1="823.90" x2="62.65" y2="823.90" stroke="#111" stroke-width="1.2"/>
<text x="57.5" y="827.0" font-size="8.6" font-weight="bold" text-anchor="end" fill="#111">0.0</text>
<line x1="59.10" y1="811.23" x2="62.65" y2="811.23" stroke="#111" stroke-width="1.2"/>
<text x="57.5" y="814.33" font-size="8.6" font-weight="bold" text-anchor="end" fill="#111">0.1</text>
<line x1="59.10" y1="798.56" x2="62.65" y2="798.56" stroke="#111" stroke-width="1.2"/>
<text x="57.5" y="801.66" font-size="8.6" font-weight="bold" text-anchor="end" fill="#111">0.2</text>
<line x1="59.10" y1="785.89" x2="62.65" y2="785.89" stroke="#111" stroke-width="1.2"/>
<text x="57.5" y="788.99" font-size="8.6" font-weight="bold" text-anchor="end" fill="#111">0.3</text>
<line x1="59.10" y1="773.22" x2="62.65" y2="773.22" stroke="#111" stroke-width="1.2"/>
<text x="57.5" y="776.32" font-size="8.6" font-weight="bold" text-anchor="end" fill="#111">0.4</text>
<line x1="59.10" y1="760.55" x2="62.65" y2="760.55" stroke="#111" stroke-width="1.2"/>
<text x="57.5" y="763.65" font-size="8.6" font-weight="bold" text-anchor="end" fill="#111">0.5</text>
<line x1="59.10" y1="747.88" x2="62.65" y2="747.88" stroke="#111" stroke-width="1.2"/>
<text x="57.5" y="750.98" font-size="8.6" font-weight="bold" text-anchor="end" fill="#111">0.6</text>
<line x1="59.10" y1="735.21" x2="62.65" y2="735.21" stroke="#111" stroke-width="1.2"/>
<text x="57.5" y="738.3100000000001" font-size="8.6" font-weight="bold" text-anchor="end" fill="#111">0.7</text>
<line x1="59.10" y1="722.54" x2="62.65" y2="722.54" stroke="#111" stroke-width="1.2"/>
<text x="57.5" y="725.64" font-size="8.6" font-weight="bold" text-anchor="end" fill="#111">0.8</text>
<line x1="59.10" y1="709.87" x2="62.65" y2="709.87" stroke="#111" stroke-width="1.2"/>
<text x="57.5" y="712.97" font-size="8.6" font-weight="bold" text-anchor="end" fill="#111">0.9</text>
<line x1="59.10" y1="697.20" x2="62.65" y2="697.20" stroke="#111" stroke-width="1.2"/>
<text x="57.5" y="700.3000000000001" font-size="8.6" font-weight="bold" text-anchor="end" fill="#111">1.0</text>
<line x1="75.85" y1="824.00" x2="75.85" y2="828.50" stroke="#111" stroke-width="1.2"/>
<line x1="94.15" y1="824.00" x2="94.15" y2="828.50" stroke="#111" stroke-width="1.2"/>
<line x1="112.55" y1="824.00" x2="112.55" y2="828.50" stroke="#111" stroke-width="1.2"/>
<line x1="130.65" y1="824.00" x2="130.65" y2="828.50" stroke="#111" stroke-width="1.2"/>
<line x1="148.95" y1="824.00" x2="148.95" y2="828.50" stroke="#111" stroke-width="1.2"/>
<line x1="167.10" y1="824.00" x2="167.10" y2="828.50" stroke="#111" stroke-width="1.2"/>
<text x="78.35" y="836.6" font-size="8.3" font-weight="bold" font-style="italic" text-anchor="end" fill="#111" transform="rotate(-45 78.35 836.6)">S. enterica</text>
<text x="96.64999999999999" y="836.6" font-size="8.3" font-weight="bold" font-style="italic" text-anchor="end" fill="#111" transform="rotate(-45 96.64999999999999 836.6)">Y. enterocolitica</text>
<text x="115.05" y="836.6" font-size="8.3" font-weight="bold" font-style="italic" text-anchor="end" fill="#111" transform="rotate(-45 115.05 836.6)">A. pittii</text>
<text x="133.15" y="836.6" font-size="8.3" font-weight="bold" font-style="italic" text-anchor="end" fill="#111" transform="rotate(-45 133.15 836.6)">E. faecalis</text>
<text x="151.45" y="836.6" font-size="8.3" font-weight="bold" font-style="italic" text-anchor="end" fill="#111" transform="rotate(-45 151.45 836.6)">B. subtilis</text>
<text x="169.6" y="836.6" font-size="8.3" font-weight="bold" font-style="italic" text-anchor="end" fill="#111" transform="rotate(-45 169.6 836.6)">S. aureus</text>
<text x="40.4" y="760.2" font-size="9.5" font-weight="bold" text-anchor="middle" fill="#111" transform="rotate(-90 40.4 760.2)">Ratio of SNP, Insertion and Deletion</text>
<rect x="188.00" y="699.00" width="10.80" height="4.80" fill="#3f45e8" stroke="#111" stroke-width="1.2"/>
<text x="206.6" y="704.7" font-size="9.1" text-anchor="start" fill="#222" stroke="#222" stroke-width="0.12">SNP</text>
<rect x="188.00" y="708.75" width="10.80" height="4.80" fill="#ffff00" stroke="#111" stroke-width="1.2"/>
<text x="206.6" y="714.45" font-size="9.1" text-anchor="start" fill="#222" stroke="#222" stroke-width="0.12">Insertion</text>
<rect x="188.00" y="718.50" width="10.80" height="4.80" fill="#f01414" stroke="#111" stroke-width="1.2"/>
<text x="206.6" y="724.2" font-size="9.1" text-anchor="start" fill="#222" stroke="#222" stroke-width="0.12">Deletion</text>
<text x="235.4" y="672.9" font-size="18.8" font-weight="bold" text-anchor="start" fill="#111">C</text>
<rect x="298.30" y="698.30" width="12.00" height="31.36" fill="#f24444"/>
<rect x="298.30" y="729.66" width="12.00" height="94.09" fill="#12c212"/>
<line x1="298.30" y1="729.66" x2="310.30" y2="729.66" stroke="#111" stroke-width="1.5"/>
<rect x="298.30" y="698.30" width="12.00" height="125.45" fill="none" stroke="#111" stroke-width="1.6"/>
<rect x="318.50" y="698.30" width="12.00" height="22.58" fill="#f24444"/>
<rect x="318.50" y="720.88" width="12.00" height="102.87" fill="#12c212"/>
<line x1="318.50" y1="720.88" x2="330.50" y2="720.88" stroke="#111" stroke-width="1.5"/>
<rect x="318.50" y="698.30" width="12.00" height="125.45" fill="none" stroke="#111" stroke-width="1.6"/>
<rect x="338.70" y="698.30" width="12.00" height="15.05" fill="#f24444"/>
<rect x="338.70" y="713.35" width="12.00" height="110.40" fill="#12c212"/>
<line x1="338.70" y1="713.35" x2="350.70" y2="713.35" stroke="#111" stroke-width="1.5"/>
<rect x="338.70" y="698.30" width="12.00" height="125.45" fill="none" stroke="#111" stroke-width="1.6"/>
<rect x="359.10" y="698.30" width="12.00" height="18.82" fill="#f24444"/>
<rect x="359.10" y="717.12" width="12.00" height="106.63" fill="#12c212"/>
<line x1="359.10" y1="717.12" x2="371.10" y2="717.12" stroke="#111" stroke-width="1.5"/>
<rect x="359.10" y="698.30" width="12.00" height="125.45" fill="none" stroke="#111" stroke-width="1.6"/>
<rect x="379.55" y="698.30" width="12.00" height="26.34" fill="#f24444"/>
<rect x="379.55" y="724.64" width="12.00" height="99.11" fill="#12c212"/>
<line x1="379.55" y1="724.64" x2="391.55" y2="724.64" stroke="#111" stroke-width="1.5"/>
<rect x="379.55" y="698.30" width="12.00" height="125.45" fill="none" stroke="#111" stroke-width="1.6"/>
<rect x="399.80" y="698.30" width="12.00" height="20.07" fill="#f24444"/>
<rect x="399.80" y="718.37" width="12.00" height="105.38" fill="#12c212"/>
<line x1="399.80" y1="718.37" x2="411.80" y2="718.37" stroke="#111" stroke-width="1.5"/>
<rect x="399.80" y="698.30" width="12.00" height="125.45" fill="none" stroke="#111" stroke-width="1.6"/>
<line x1="289.50" y1="697.50" x2="289.50" y2="825.00" stroke="#111" stroke-width="2.8"/>
<line x1="288.00" y1="824.20" x2="415.00" y2="824.20" stroke="#111" stroke-width="1.6"/>
<line x1="287.20" y1="823.75" x2="289.50" y2="823.75" stroke="#111" stroke-width="0.7"/>
<line x1="287.20" y1="821.24" x2="289.50" y2="821.24" stroke="#111" stroke-width="0.7"/>
<line x1="287.20" y1="818.73" x2="289.50" y2="818.73" stroke="#111" stroke-width="0.7"/>
<line x1="287.20" y1="816.22" x2="289.50" y2="816.22" stroke="#111" stroke-width="0.7"/>
<line x1="287.20" y1="813.71" x2="289.50" y2="813.71" stroke="#111" stroke-width="0.7"/>
<line x1="287.20" y1="811.21" x2="289.50" y2="811.21" stroke="#111" stroke-width="0.7"/>
<line x1="287.20" y1="808.70" x2="289.50" y2="808.70" stroke="#111" stroke-width="0.7"/>
<line x1="287.20" y1="806.19" x2="289.50" y2="806.19" stroke="#111" stroke-width="0.7"/>
<line x1="287.20" y1="803.68" x2="289.50" y2="803.68" stroke="#111" stroke-width="0.7"/>
<line x1="287.20" y1="801.17" x2="289.50" y2="801.17" stroke="#111" stroke-width="0.7"/>
<line x1="287.20" y1="798.66" x2="289.50" y2="798.66" stroke="#111" stroke-width="0.7"/>
<line x1="287.20" y1="796.15" x2="289.50" y2="796.15" stroke="#111" stroke-width="0.7"/>
<line x1="287.20" y1="793.64" x2="289.50" y2="793.64" stroke="#111" stroke-width="0.7"/>
<line x1="287.20" y1="791.13" x2="289.50" y2="791.13" stroke="#111" stroke-width="0.7"/>
<line x1="287.20" y1="788.62" x2="289.50" y2="788.62" stroke="#111" stroke-width="0.7"/>
<line x1="287.20" y1="786.12" x2="289.50" y2="786.12" stroke="#111" stroke-width="0.7"/>
<line x1="287.20" y1="783.61" x2="289.50" y2="783.61" stroke="#111" stroke-width="0.7"/>
<line x1="287.20" y1="781.10" x2="289.50" y2="781.10" stroke="#111" stroke-width="0.7"/>
<line x1="287.20" y1="778.59" x2="289.50" y2="778.59" stroke="#111" stroke-width="0.7"/>
<line x1="287.20" y1="776.08" x2="289.50" y2="776.08" stroke="#111" stroke-width="0.7"/>
<line x1="287.20" y1="773.57" x2="289.50" y2="773.57" stroke="#111" stroke-width="0.7"/>
<line x1="287.20" y1="771.06" x2="289.50" y2="771.06" stroke="#111" stroke-width="0.7"/>
<line x1="287.20" y1="768.55" x2="289.50" y2="768.55" stroke="#111" stroke-width="0.7"/>
<line x1="287.20" y1="766.04" x2="289.50" y2="766.04" stroke="#111" stroke-width="0.7"/>
<line x1="287.20" y1="763.53" x2="289.50" y2="763.53" stroke="#111" stroke-width="0.7"/>
<line x1="287.20" y1="761.02" x2="289.50" y2="761.02" stroke="#111" stroke-width="0.7"/>
<line x1="287.20" y1="758.52" x2="289.50" y2="758.52" stroke="#111" stroke-width="0.7"/>
<line x1="287.20" y1="756.01" x2="289.50" y2="756.01" stroke="#111" stroke-width="0.7"/>
<line x1="287.20" y1="753.50" x2="289.50" y2="753.50" stroke="#111" stroke-width="0.7"/>
<line x1="287.20" y1="750.99" x2="289.50" y2="750.99" stroke="#111" stroke-width="0.7"/>
<line x1="287.20" y1="748.48" x2="289.50" y2="748.48" stroke="#111" stroke-width="0.7"/>
<line x1="287.20" y1="745.97" x2="289.50" y2="745.97" stroke="#111" stroke-width="0.7"/>
<line x1="287.20" y1="743.46" x2="289.50" y2="743.46" stroke="#111" stroke-width="0.7"/>
<line x1="287.20" y1="740.95" x2="289.50" y2="740.95" stroke="#111" stroke-width="0.7"/>
<line x1="287.20" y1="738.44" x2="289.50" y2="738.44" stroke="#111" stroke-width="0.7"/>
<line x1="287.20" y1="735.93" x2="289.50" y2="735.93" stroke="#111" stroke-width="0.7"/>
<line x1="287.20" y1="733.43" x2="289.50" y2="733.43" stroke="#111" stroke-width="0.7"/>
<line x1="287.20" y1="730.92" x2="289.50" y2="730.92" stroke="#111" stroke-width="0.7"/>
<line x1="287.20" y1="728.41" x2="289.50" y2="728.41" stroke="#111" stroke-width="0.7"/>
<line x1="287.20" y1="725.90" x2="289.50" y2="725.90" stroke="#111" stroke-width="0.7"/>
<line x1="287.20" y1="723.39" x2="289.50" y2="723.39" stroke="#111" stroke-width="0.7"/>
<line x1="287.20" y1="720.88" x2="289.50" y2="720.88" stroke="#111" stroke-width="0.7"/>
<line x1="287.20" y1="718.37" x2="289.50" y2="718.37" stroke="#111" stroke-width="0.7"/>
<line x1="287.20" y1="715.86" x2="289.50" y2="715.86" stroke="#111" stroke-width="0.7"/>
<line x1="287.20" y1="713.35" x2="289.50" y2="713.35" stroke="#111" stroke-width="0.7"/>
<line x1="287.20" y1="710.84" x2="289.50" y2="710.84" stroke="#111" stroke-width="0.7"/>
<line x1="287.20" y1="708.34" x2="289.50" y2="708.34" stroke="#111" stroke-width="0.7"/>
<line x1="287.20" y1="705.83" x2="289.50" y2="705.83" stroke="#111" stroke-width="0.7"/>
<line x1="287.20" y1="703.32" x2="289.50" y2="703.32" stroke="#111" stroke-width="0.7"/>
<line x1="287.20" y1="700.81" x2="289.50" y2="700.81" stroke="#111" stroke-width="0.7"/>
<line x1="287.20" y1="698.30" x2="289.50" y2="698.30" stroke="#111" stroke-width="0.7"/>
<line x1="285.40" y1="823.75" x2="289.50" y2="823.75" stroke="#111" stroke-width="1.2"/>
<text x="284.0" y="826.95" font-size="9.0" font-weight="bold" text-anchor="end" fill="#111">0.0</text>
<line x1="285.40" y1="811.21" x2="289.50" y2="811.21" stroke="#111" stroke-width="1.2"/>
<text x="284.0" y="814.4050000000001" font-size="9.0" font-weight="bold" text-anchor="end" fill="#111">0.1</text>
<line x1="285.40" y1="798.66" x2="289.50" y2="798.66" stroke="#111" stroke-width="1.2"/>
<text x="284.0" y="801.86" font-size="9.0" font-weight="bold" text-anchor="end" fill="#111">0.2</text>
<line x1="285.40" y1="786.12" x2="289.50" y2="786.12" stroke="#111" stroke-width="1.2"/>
<text x="284.0" y="789.315" font-size="9.0" font-weight="bold" text-anchor="end" fill="#111">0.3</text>
<line x1="285.40" y1="773.57" x2="289.50" y2="773.57" stroke="#111" stroke-width="1.2"/>
<text x="284.0" y="776.77" font-size="9.0" font-weight="bold" text-anchor="end" fill="#111">0.4</text>
<line x1="285.40" y1="761.02" x2="289.50" y2="761.02" stroke="#111" stroke-width="1.2"/>
<text x="284.0" y="764.225" font-size="9.0" font-weight="bold" text-anchor="end" fill="#111">0.5</text>
<line x1="285.40" y1="748.48" x2="289.50" y2="748.48" stroke="#111" stroke-width="1.2"/>
<text x="284.0" y="751.6800000000001" font-size="9.0" font-weight="bold" text-anchor="end" fill="#111">0.6</text>
<line x1="285.40" y1="735.93" x2="289.50" y2="735.93" stroke="#111" stroke-width="1.2"/>
<text x="284.0" y="739.135" font-size="9.0" font-weight="bold" text-anchor="end" fill="#111">0.7</text>
<line x1="285.40" y1="723.39" x2="289.50" y2="723.39" stroke="#111" stroke-width="1.2"/>
<text x="284.0" y="726.59" font-size="9.0" font-weight="bold" text-anchor="end" fill="#111">0.8</text>
<line x1="285.40" y1="710.84" x2="289.50" y2="710.84" stroke="#111" stroke-width="1.2"/>
<text x="284.0" y="714.045" font-size="9.0" font-weight="bold" text-anchor="end" fill="#111">0.9</text>
<line x1="285.40" y1="698.30" x2="289.50" y2="698.30" stroke="#111" stroke-width="1.2"/>
<text x="284.0" y="701.5" font-size="9.0" font-weight="bold" text-anchor="end" fill="#111">1.0</text>
<line x1="304.30" y1="824.00" x2="304.30" y2="828.50" stroke="#111" stroke-width="1.2"/>
<line x1="324.50" y1="824.00" x2="324.50" y2="828.50" stroke="#111" stroke-width="1.2"/>
<line x1="344.70" y1="824.00" x2="344.70" y2="828.50" stroke="#111" stroke-width="1.2"/>
<line x1="365.10" y1="824.00" x2="365.10" y2="828.50" stroke="#111" stroke-width="1.2"/>
<line x1="385.55" y1="824.00" x2="385.55" y2="828.50" stroke="#111" stroke-width="1.2"/>
<line x1="405.80" y1="824.00" x2="405.80" y2="828.50" stroke="#111" stroke-width="1.2"/>
<text x="306.8" y="837.6" font-size="9.25" font-weight="bold" font-style="italic" text-anchor="end" fill="#111" transform="rotate(-45 306.8 837.6)">S. enterica</text>
<text x="327.0" y="837.6" font-size="9.25" font-weight="bold" font-style="italic" text-anchor="end" fill="#111" transform="rotate(-45 327.0 837.6)">Y. enterocolitica</text>
<text x="347.2" y="837.6" font-size="9.25" font-weight="bold" font-style="italic" text-anchor="end" fill="#111" transform="rotate(-45 347.2 837.6)">A. pittii</text>
<text x="367.6" y="837.6" font-size="9.25" font-weight="bold" font-style="italic" text-anchor="end" fill="#111" transform="rotate(-45 367.6 837.6)">E. faecalis</text>
<text x="388.05" y="837.6" font-size="9.25" font-weight="bold" font-style="italic" text-anchor="end" fill="#111" transform="rotate(-45 388.05 837.6)">B. subtilis</text>
<text x="408.3" y="837.6" font-size="9.25" font-weight="bold" font-style="italic" text-anchor="end" fill="#111" transform="rotate(-45 408.3 837.6)">S. aureus</text>
<text x="265.0" y="760.5" font-size="10.3" font-weight="bold" text-anchor="middle" fill="#111" transform="rotate(-90 265.0 760.5)">Ratio of Exon and Non-exon</text>
<rect x="425.30" y="701.30" width="12.10" height="4.80" fill="#12c212" stroke="#111" stroke-width="1.2"/>
<text x="445.8" y="707.3000000000001" font-size="10.1" text-anchor="start" fill="#222" stroke="#222" stroke-width="0.12">Exon</text>
<rect x="425.30" y="717.90" width="12.10" height="4.80" fill="#f24444" stroke="#111" stroke-width="1.2"/>
<text x="445.8" y="723.9000000000001" font-size="10.1" text-anchor="start" fill="#222" stroke="#222" stroke-width="0.12">Non-exon</text>
<text x="504.5" y="673.6" font-size="18.8" font-weight="bold" text-anchor="start" fill="#111">D</text>
<rect x="543.80" y="754.79" width="11.60" height="69.61" fill="#0808ea" stroke="#111" stroke-width="1.6"/>
<rect x="564.15" y="759.82" width="11.60" height="64.58" fill="#2290aa" stroke="#111" stroke-width="1.6"/>
<rect x="584.50" y="768.61" width="11.60" height="55.79" fill="#ffff10" stroke="#111" stroke-width="1.6"/>
<rect x="604.85" y="801.28" width="11.60" height="23.12" fill="#ee0a0a" stroke="#111" stroke-width="1.6"/>
<rect x="625.20" y="711.31" width="11.60" height="113.09" fill="#44ee44" stroke="#111" stroke-width="1.6"/>
<rect x="645.55" y="762.58" width="11.60" height="61.82" fill="#606060" stroke="#111" stroke-width="1.6"/>
<line x1="536.20" y1="698.00" x2="536.20" y2="825.00" stroke="#333" stroke-width="1.8"/>
<line x1="536.00" y1="824.40" x2="664.70" y2="824.40" stroke="#222" stroke-width="1.6"/>
<line x1="531.20" y1="824.40" x2="536.20" y2="824.40" stroke="#222" stroke-width="1.2"/>
<text x="529.6" y="827.8" font-size="9.4" font-weight="bold" text-anchor="end" fill="#111">0</text>
<line x1="531.20" y1="799.27" x2="536.20" y2="799.27" stroke="#222" stroke-width="1.2"/>
<text x="529.6" y="802.67" font-size="9.4" font-weight="bold" text-anchor="end" fill="#111">1</text>
<line x1="531.20" y1="774.14" x2="536.20" y2="774.14" stroke="#222" stroke-width="1.2"/>
<text x="529.6" y="777.54" font-size="9.4" font-weight="bold" text-anchor="end" fill="#111">2</text>
<line x1="531.20" y1="749.01" x2="536.20" y2="749.01" stroke="#222" stroke-width="1.2"/>
<text x="529.6" y="752.41" font-size="9.4" font-weight="bold" text-anchor="end" fill="#111">3</text>
<line x1="531.20" y1="723.88" x2="536.20" y2="723.88" stroke="#222" stroke-width="1.2"/>
<text x="529.6" y="727.28" font-size="9.4" font-weight="bold" text-anchor="end" fill="#111">4</text>
<line x1="531.20" y1="698.75" x2="536.20" y2="698.75" stroke="#222" stroke-width="1.2"/>
<text x="529.6" y="702.15" font-size="9.4" font-weight="bold" text-anchor="end" fill="#111">5</text>
<line x1="549.60" y1="824.00" x2="549.60" y2="829.00" stroke="#222" stroke-width="1.2"/>
<line x1="569.95" y1="824.00" x2="569.95" y2="829.00" stroke="#222" stroke-width="1.2"/>
<line x1="590.30" y1="824.00" x2="590.30" y2="829.00" stroke="#222" stroke-width="1.2"/>
<line x1="610.65" y1="824.00" x2="610.65" y2="829.00" stroke="#222" stroke-width="1.2"/>
<line x1="631.00" y1="824.00" x2="631.00" y2="829.00" stroke="#222" stroke-width="1.2"/>
<line x1="651.35" y1="824.00" x2="651.35" y2="829.00" stroke="#222" stroke-width="1.2"/>
<text x="552.1" y="838.0" font-size="9.2" font-weight="bold" font-style="italic" text-anchor="end" fill="#111" transform="rotate(-45 552.1 838.0)">S. enterica</text>
<text x="572.45" y="838.0" font-size="9.2" font-weight="bold" font-style="italic" text-anchor="end" fill="#111" transform="rotate(-45 572.45 838.0)">Y. enterocolitica</text>
<text x="592.8000000000001" y="838.0" font-size="9.2" font-weight="bold" font-style="italic" text-anchor="end" fill="#111" transform="rotate(-45 592.8000000000001 838.0)">A. pittii</text>
<text x="613.15" y="838.0" font-size="9.2" font-weight="bold" font-style="italic" text-anchor="end" fill="#111" transform="rotate(-45 613.15 838.0)">E. faecalis</text>
<text x="633.5" y="838.0" font-size="9.2" font-weight="bold" font-style="italic" text-anchor="end" fill="#111" transform="rotate(-45 633.5 838.0)">B. subtilis</text>
<text x="653.85" y="838.0" font-size="9.2" font-weight="bold" font-style="italic" text-anchor="end" fill="#111" transform="rotate(-45 653.85 838.0)">S. aureus</text>
<text x="518.4" y="761" font-size="10" font-weight="bold" text-anchor="middle" fill="#111" transform="rotate(-90 518.4 761)">dN/dS</text>
<rect x="662.20" y="699.40" width="12.10" height="5.20" fill="#0808ea" stroke="#111" stroke-width="1.2"/>
<text x="683" y="705.6" font-size="10.4" font-weight="bold" font-style="italic" text-anchor="start" fill="#222">S. enterica</text>
<rect x="662.20" y="713.10" width="12.10" height="5.20" fill="#2290aa" stroke="#111" stroke-width="1.2"/>
<text x="683" y="719.3000000000001" font-size="10.4" font-weight="bold" font-style="italic" text-anchor="start" fill="#222">Y. enterocolitica</text>
<rect x="662.20" y="726.80" width="12.10" height="5.20" fill="#ffff10" stroke="#111" stroke-width="1.2"/>
<text x="683" y="733.0" font-size="10.4" font-weight="bold" font-style="italic" text-anchor="start" fill="#222">A. pittii</text>
<rect x="662.20" y="740.50" width="12.10" height="5.20" fill="#ee0a0a" stroke="#111" stroke-width="1.2"/>
<text x="683" y="746.7" font-size="10.4" font-weight="bold" font-style="italic" text-anchor="start" fill="#222">E. faecalis</text>
<rect x="662.20" y="754.20" width="12.10" height="5.20" fill="#44ee44" stroke="#111" stroke-width="1.2"/>
<text x="683" y="760.4" font-size="10.4" font-weight="bold" font-style="italic" text-anchor="start" fill="#222">B. subtilis</text>
<rect x="662.20" y="767.90" width="12.10" height="5.20" fill="#606060" stroke="#111" stroke-width="1.2"/>
<text x="683" y="774.1" font-size="10.4" font-weight="bold" font-style="italic" text-anchor="start" fill="#222">S. aureus</text>
</svg></body></html>
